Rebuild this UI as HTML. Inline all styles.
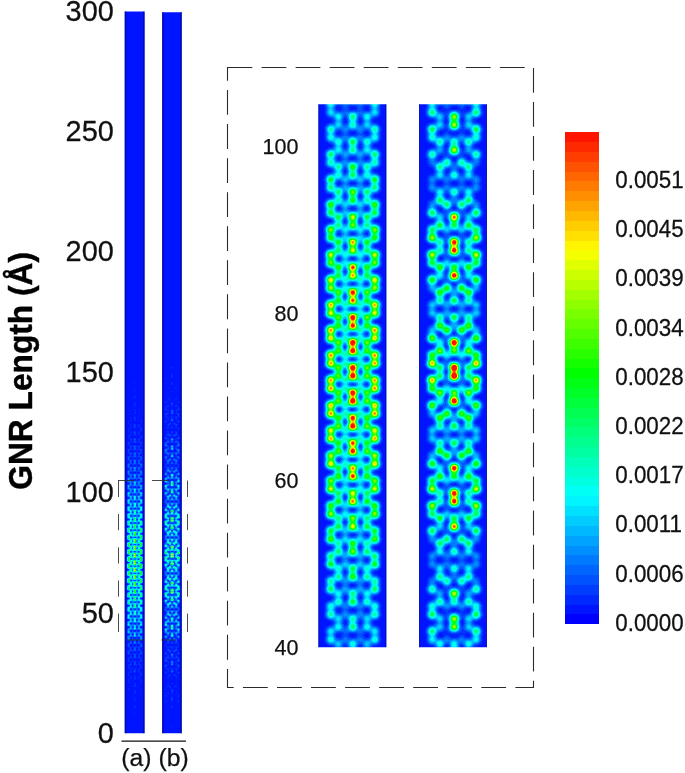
<!DOCTYPE html>
<html lang="en"><head><meta charset="utf-8"><title>GNR Length</title>
<style>html,body{margin:0;padding:0;background:#fff}svg{display:block}</style></head>
<body>
<svg width="685" height="773" viewBox="0 0 685 773">
<defs>
<radialGradient id="dot"><stop offset="0.000" stop-color="#fff" stop-opacity="1.000"/><stop offset="0.083" stop-color="#fff" stop-opacity="0.969"/><stop offset="0.167" stop-color="#fff" stop-opacity="0.882"/><stop offset="0.250" stop-color="#fff" stop-opacity="0.755"/><stop offset="0.333" stop-color="#fff" stop-opacity="0.607"/><stop offset="0.417" stop-color="#fff" stop-opacity="0.458"/><stop offset="0.500" stop-color="#fff" stop-opacity="0.325"/><stop offset="0.583" stop-color="#fff" stop-opacity="0.216"/><stop offset="0.667" stop-color="#fff" stop-opacity="0.135"/><stop offset="0.750" stop-color="#fff" stop-opacity="0.080"/><stop offset="0.833" stop-color="#fff" stop-opacity="0.044"/><stop offset="0.917" stop-color="#fff" stop-opacity="0.023"/><stop offset="1.000" stop-color="#fff" stop-opacity="0.000"/></radialGradient>
<filter id="jet" color-interpolation-filters="sRGB" x="0" y="0" width="1" height="1"><feComponentTransfer><feFuncR type="discrete" tableValues="0 0 0 0 0 0 0 0 0 0 0 0 0 0 0 0 0 0 0 0 0 0 0 0 0 0.08 0.16 0.24 0.32 0.4 0.48 0.56 0.64 0.72 0.8 0.88 0.96 1 1 1 1 1 1 1 1 1 1 1 1 1 1 1 1 1 1 1 1 1 1 1 1 1 1 1 1 1 1 1 1 1 1 1 1 1 1 1 1 1 1 1 1 1 1 1 1 1 1 1 1 1 1 1 1 1 1 1 1 1 1 1"/><feFuncG type="discrete" tableValues="0.08 0.16 0.24 0.32 0.4 0.48 0.56 0.64 0.72 0.8 0.88 0.96 1 1 1 1 1 1 1 1 1 1 1 1 1 1 1 1 1 1 1 1 1 1 1 1 1 0.96 0.88 0.8 0.72 0.64 0.56 0.48 0.4 0.32 0.24 0.16 0.08 0.08 0.08 0.08 0.08 0.08 0.08 0.08 0.08 0.08 0.08 0.08 0.08 0.08 0.08 0.08 0.08 0.08 0.08 0.08 0.08 0.08 0.08 0.08 0.08 0.08 0.08 0.08 0.08 0.08 0.08 0.08 0.08 0.08 0.08 0.08 0.08 0.08 0.08 0.08 0.08 0.08 0.08 0.08 0.08 0.08 0.08 0.08 0.08 0.08 0.08 0.08"/><feFuncB type="discrete" tableValues="1 1 1 1 1 1 1 1 1 1 1 1 0.96 0.88 0.8 0.72 0.64 0.56 0.48 0.4 0.32 0.24 0.16 0.08 0 0 0 0 0 0 0 0 0 0 0 0 0 0 0 0 0 0 0 0 0 0 0 0 0 0 0 0 0 0 0 0 0 0 0 0 0 0 0 0 0 0 0 0 0 0 0 0 0 0 0 0 0 0 0 0 0 0 0 0 0 0 0 0 0 0 0 0 0 0 0 0 0 0 0 0"/></feComponentTransfer></filter>
</defs>
<rect width="685" height="773" fill="#fff"/>
<clipPath id="cma"><rect x="124.70" y="11.40" width="19.90" height="721.90"/></clipPath>
<g filter="url(#jet)"><g clip-path="url(#cma)">
<rect x="122.7" y="9.4" width="23.9" height="725.9" fill="#000"/>
<g fill="url(#dot)">
<circle cx="134.8" cy="360.4" r="2.70" opacity="0.007"/>
<circle cx="134.8" cy="367.5" r="2.70" opacity="0.008"/>
<circle cx="134.8" cy="369.9" r="2.70" opacity="0.007"/>
<circle cx="134.8" cy="374.7" r="2.70" opacity="0.009"/>
<circle cx="134.8" cy="377.1" r="2.70" opacity="0.008"/>
<circle cx="134.8" cy="381.9" r="2.70" opacity="0.012"/>
<circle cx="134.8" cy="384.3" r="2.70" opacity="0.010"/>
<circle cx="130.8" cy="389.1" r="2.70" opacity="0.006"/>
<circle cx="134.8" cy="389.1" r="2.70" opacity="0.014"/>
<circle cx="134.8" cy="391.4" r="2.70" opacity="0.011"/>
<circle cx="138.9" cy="389.1" r="2.70" opacity="0.006"/>
<circle cx="128.6" cy="399.9" r="2.70" opacity="0.007"/>
<circle cx="130.8" cy="396.3" r="2.70" opacity="0.008"/>
<circle cx="130.8" cy="398.6" r="2.70" opacity="0.006"/>
<circle cx="134.8" cy="396.3" r="2.70" opacity="0.016"/>
<circle cx="134.8" cy="398.6" r="2.70" opacity="0.013"/>
<circle cx="138.9" cy="396.3" r="2.70" opacity="0.008"/>
<circle cx="138.9" cy="398.6" r="2.70" opacity="0.006"/>
<circle cx="141.1" cy="399.9" r="2.70" opacity="0.007"/>
<circle cx="128.6" cy="407.0" r="2.70" opacity="0.009"/>
<circle cx="128.6" cy="409.4" r="2.70" opacity="0.007"/>
<circle cx="130.8" cy="403.4" r="2.70" opacity="0.010"/>
<circle cx="130.8" cy="405.8" r="2.70" opacity="0.008"/>
<circle cx="134.8" cy="403.4" r="2.70" opacity="0.019"/>
<circle cx="134.8" cy="405.8" r="2.70" opacity="0.016"/>
<circle cx="138.9" cy="403.4" r="2.70" opacity="0.010"/>
<circle cx="138.9" cy="405.8" r="2.70" opacity="0.008"/>
<circle cx="141.1" cy="407.0" r="2.70" opacity="0.009"/>
<circle cx="141.1" cy="409.4" r="2.70" opacity="0.007"/>
<circle cx="128.6" cy="414.2" r="2.70" opacity="0.011"/>
<circle cx="128.6" cy="416.6" r="2.70" opacity="0.009"/>
<circle cx="130.8" cy="410.6" r="2.70" opacity="0.012"/>
<circle cx="130.8" cy="413.0" r="2.70" opacity="0.010"/>
<circle cx="134.8" cy="410.6" r="2.70" opacity="0.023"/>
<circle cx="134.8" cy="413.0" r="2.70" opacity="0.019"/>
<circle cx="138.9" cy="410.6" r="2.70" opacity="0.012"/>
<circle cx="138.9" cy="413.0" r="2.70" opacity="0.010"/>
<circle cx="141.1" cy="414.2" r="2.70" opacity="0.011"/>
<circle cx="141.1" cy="416.6" r="2.70" opacity="0.009"/>
<circle cx="128.6" cy="421.4" r="2.70" opacity="0.014"/>
<circle cx="128.6" cy="423.7" r="2.70" opacity="0.011"/>
<circle cx="130.8" cy="417.8" r="2.70" opacity="0.014"/>
<circle cx="130.8" cy="420.2" r="2.70" opacity="0.012"/>
<circle cx="134.8" cy="417.8" r="2.70" opacity="0.028"/>
<circle cx="134.8" cy="420.2" r="2.70" opacity="0.022"/>
<circle cx="138.9" cy="417.8" r="2.70" opacity="0.014"/>
<circle cx="138.9" cy="420.2" r="2.70" opacity="0.012"/>
<circle cx="141.1" cy="421.4" r="2.70" opacity="0.014"/>
<circle cx="141.1" cy="423.7" r="2.70" opacity="0.011"/>
<circle cx="128.6" cy="428.6" r="2.70" opacity="0.017"/>
<circle cx="128.6" cy="430.9" r="2.70" opacity="0.014"/>
<circle cx="130.8" cy="425.0" r="2.70" opacity="0.017"/>
<circle cx="130.8" cy="427.3" r="2.70" opacity="0.014"/>
<circle cx="132.8" cy="428.6" r="2.70" opacity="0.007"/>
<circle cx="134.8" cy="425.0" r="2.70" opacity="0.032"/>
<circle cx="134.8" cy="427.3" r="2.70" opacity="0.026"/>
<circle cx="136.9" cy="428.6" r="2.70" opacity="0.007"/>
<circle cx="138.9" cy="425.0" r="2.70" opacity="0.017"/>
<circle cx="138.9" cy="427.3" r="2.70" opacity="0.014"/>
<circle cx="141.1" cy="428.6" r="2.70" opacity="0.017"/>
<circle cx="141.1" cy="430.9" r="2.70" opacity="0.014"/>
<circle cx="128.6" cy="435.8" r="2.70" opacity="0.021"/>
<circle cx="128.6" cy="438.1" r="2.70" opacity="0.018"/>
<circle cx="130.8" cy="432.2" r="2.70" opacity="0.021"/>
<circle cx="130.8" cy="434.5" r="2.70" opacity="0.017"/>
<circle cx="132.8" cy="435.8" r="2.70" opacity="0.009"/>
<circle cx="132.8" cy="438.1" r="2.70" opacity="0.007"/>
<circle cx="134.8" cy="432.2" r="2.70" opacity="0.038"/>
<circle cx="134.8" cy="434.5" r="2.70" opacity="0.031"/>
<circle cx="136.9" cy="435.8" r="2.70" opacity="0.009"/>
<circle cx="136.9" cy="438.1" r="2.70" opacity="0.007"/>
<circle cx="138.9" cy="432.2" r="2.70" opacity="0.021"/>
<circle cx="138.9" cy="434.5" r="2.70" opacity="0.017"/>
<circle cx="141.1" cy="435.8" r="2.70" opacity="0.021"/>
<circle cx="141.1" cy="438.1" r="2.70" opacity="0.018"/>
<circle cx="128.6" cy="442.9" r="2.70" opacity="0.027"/>
<circle cx="128.6" cy="445.3" r="2.70" opacity="0.022"/>
<circle cx="130.8" cy="439.3" r="2.70" opacity="0.026"/>
<circle cx="130.8" cy="441.7" r="2.70" opacity="0.021"/>
<circle cx="132.8" cy="442.9" r="2.70" opacity="0.011"/>
<circle cx="132.8" cy="445.3" r="2.70" opacity="0.009"/>
<circle cx="134.8" cy="439.3" r="2.70" opacity="0.044"/>
<circle cx="134.8" cy="441.7" r="2.70" opacity="0.036"/>
<circle cx="136.9" cy="442.9" r="2.70" opacity="0.011"/>
<circle cx="136.9" cy="445.3" r="2.70" opacity="0.009"/>
<circle cx="138.9" cy="439.3" r="2.70" opacity="0.026"/>
<circle cx="138.9" cy="441.7" r="2.70" opacity="0.021"/>
<circle cx="141.1" cy="442.9" r="2.70" opacity="0.027"/>
<circle cx="141.1" cy="445.3" r="2.70" opacity="0.022"/>
<circle cx="128.6" cy="450.1" r="2.70" opacity="0.033"/>
<circle cx="128.6" cy="452.5" r="2.70" opacity="0.028"/>
<circle cx="130.8" cy="446.5" r="2.70" opacity="0.031"/>
<circle cx="130.8" cy="448.9" r="2.70" opacity="0.025"/>
<circle cx="132.8" cy="450.1" r="2.70" opacity="0.014"/>
<circle cx="132.8" cy="452.5" r="2.70" opacity="0.011"/>
<circle cx="134.8" cy="446.5" r="2.70" opacity="0.051"/>
<circle cx="134.8" cy="448.9" r="2.70" opacity="0.041"/>
<circle cx="136.9" cy="450.1" r="2.70" opacity="0.014"/>
<circle cx="136.9" cy="452.5" r="2.70" opacity="0.011"/>
<circle cx="138.9" cy="446.5" r="2.70" opacity="0.031"/>
<circle cx="138.9" cy="448.9" r="2.70" opacity="0.025"/>
<circle cx="141.1" cy="450.1" r="2.70" opacity="0.033"/>
<circle cx="141.1" cy="452.5" r="2.70" opacity="0.028"/>
<circle cx="128.6" cy="457.3" r="2.70" opacity="0.041"/>
<circle cx="128.6" cy="459.6" r="2.70" opacity="0.034"/>
<circle cx="130.8" cy="453.7" r="2.70" opacity="0.037"/>
<circle cx="130.8" cy="456.1" r="2.70" opacity="0.030"/>
<circle cx="132.8" cy="457.3" r="2.70" opacity="0.017"/>
<circle cx="132.8" cy="459.6" r="2.70" opacity="0.014"/>
<circle cx="134.8" cy="453.7" r="2.70" opacity="0.060"/>
<circle cx="134.8" cy="456.1" r="2.70" opacity="0.049"/>
<circle cx="136.9" cy="457.3" r="2.70" opacity="0.017"/>
<circle cx="136.9" cy="459.6" r="2.70" opacity="0.014"/>
<circle cx="138.9" cy="453.7" r="2.70" opacity="0.037"/>
<circle cx="138.9" cy="456.1" r="2.70" opacity="0.030"/>
<circle cx="141.1" cy="457.3" r="2.70" opacity="0.041"/>
<circle cx="141.1" cy="459.6" r="2.70" opacity="0.034"/>
<circle cx="128.6" cy="464.5" r="2.70" opacity="0.051"/>
<circle cx="128.6" cy="466.8" r="2.70" opacity="0.042"/>
<circle cx="130.8" cy="460.9" r="2.70" opacity="0.045"/>
<circle cx="130.8" cy="463.2" r="2.70" opacity="0.037"/>
<circle cx="132.8" cy="464.5" r="2.70" opacity="0.020"/>
<circle cx="132.8" cy="466.8" r="2.70" opacity="0.017"/>
<circle cx="134.8" cy="460.9" r="2.70" opacity="0.069"/>
<circle cx="134.8" cy="463.2" r="2.70" opacity="0.057"/>
<circle cx="136.9" cy="464.5" r="2.70" opacity="0.020"/>
<circle cx="136.9" cy="466.8" r="2.70" opacity="0.017"/>
<circle cx="138.9" cy="460.9" r="2.70" opacity="0.045"/>
<circle cx="138.9" cy="463.2" r="2.70" opacity="0.037"/>
<circle cx="141.1" cy="464.5" r="2.70" opacity="0.051"/>
<circle cx="141.1" cy="466.8" r="2.70" opacity="0.042"/>
<circle cx="128.6" cy="471.7" r="2.70" opacity="0.063"/>
<circle cx="128.6" cy="474.0" r="2.70" opacity="0.052"/>
<circle cx="130.8" cy="468.1" r="2.70" opacity="0.054"/>
<circle cx="130.8" cy="470.4" r="2.70" opacity="0.044"/>
<circle cx="132.8" cy="471.7" r="2.70" opacity="0.025"/>
<circle cx="132.8" cy="474.0" r="2.70" opacity="0.020"/>
<circle cx="134.8" cy="468.1" r="2.70" opacity="0.082"/>
<circle cx="134.8" cy="470.4" r="2.70" opacity="0.067"/>
<circle cx="136.9" cy="471.7" r="2.70" opacity="0.025"/>
<circle cx="136.9" cy="474.0" r="2.70" opacity="0.020"/>
<circle cx="138.9" cy="468.1" r="2.70" opacity="0.054"/>
<circle cx="138.9" cy="470.4" r="2.70" opacity="0.044"/>
<circle cx="141.1" cy="471.7" r="2.70" opacity="0.063"/>
<circle cx="141.1" cy="474.0" r="2.70" opacity="0.052"/>
<circle cx="128.6" cy="478.8" r="2.70" opacity="0.078"/>
<circle cx="128.6" cy="481.2" r="2.70" opacity="0.064"/>
<circle cx="130.8" cy="475.2" r="2.70" opacity="0.064"/>
<circle cx="130.8" cy="477.6" r="2.70" opacity="0.052"/>
<circle cx="132.8" cy="478.8" r="2.70" opacity="0.030"/>
<circle cx="132.8" cy="481.2" r="2.70" opacity="0.025"/>
<circle cx="134.8" cy="475.2" r="2.70" opacity="0.096"/>
<circle cx="134.8" cy="477.6" r="2.70" opacity="0.078"/>
<circle cx="136.9" cy="478.8" r="2.70" opacity="0.030"/>
<circle cx="136.9" cy="481.2" r="2.70" opacity="0.025"/>
<circle cx="138.9" cy="475.2" r="2.70" opacity="0.064"/>
<circle cx="138.9" cy="477.6" r="2.70" opacity="0.052"/>
<circle cx="141.1" cy="478.8" r="2.70" opacity="0.078"/>
<circle cx="141.1" cy="481.2" r="2.70" opacity="0.064"/>
<circle cx="128.6" cy="486.0" r="2.70" opacity="0.095"/>
<circle cx="128.6" cy="488.4" r="2.70" opacity="0.078"/>
<circle cx="130.8" cy="482.4" r="2.70" opacity="0.075"/>
<circle cx="130.8" cy="484.8" r="2.70" opacity="0.061"/>
<circle cx="132.8" cy="486.0" r="2.70" opacity="0.036"/>
<circle cx="132.8" cy="488.4" r="2.70" opacity="0.030"/>
<circle cx="134.8" cy="482.4" r="2.70" opacity="0.113"/>
<circle cx="134.8" cy="484.8" r="2.70" opacity="0.093"/>
<circle cx="136.9" cy="486.0" r="2.70" opacity="0.036"/>
<circle cx="136.9" cy="488.4" r="2.70" opacity="0.030"/>
<circle cx="138.9" cy="482.4" r="2.70" opacity="0.075"/>
<circle cx="138.9" cy="484.8" r="2.70" opacity="0.061"/>
<circle cx="141.1" cy="486.0" r="2.70" opacity="0.095"/>
<circle cx="141.1" cy="488.4" r="2.70" opacity="0.078"/>
<circle cx="128.6" cy="493.2" r="2.70" opacity="0.115"/>
<circle cx="128.6" cy="495.5" r="2.70" opacity="0.094"/>
<circle cx="130.8" cy="489.6" r="2.70" opacity="0.088"/>
<circle cx="130.8" cy="492.0" r="2.70" opacity="0.072"/>
<circle cx="132.8" cy="493.2" r="2.70" opacity="0.043"/>
<circle cx="132.8" cy="495.5" r="2.70" opacity="0.035"/>
<circle cx="134.8" cy="489.6" r="2.70" opacity="0.135"/>
<circle cx="134.8" cy="492.0" r="2.70" opacity="0.109"/>
<circle cx="136.9" cy="493.2" r="2.70" opacity="0.043"/>
<circle cx="136.9" cy="495.5" r="2.70" opacity="0.035"/>
<circle cx="138.9" cy="489.6" r="2.70" opacity="0.088"/>
<circle cx="138.9" cy="492.0" r="2.70" opacity="0.072"/>
<circle cx="141.1" cy="493.2" r="2.70" opacity="0.115"/>
<circle cx="141.1" cy="495.5" r="2.70" opacity="0.094"/>
<circle cx="128.6" cy="500.4" r="2.70" opacity="0.137"/>
<circle cx="128.6" cy="502.7" r="2.70" opacity="0.113"/>
<circle cx="130.8" cy="496.8" r="2.70" opacity="0.103"/>
<circle cx="130.8" cy="499.1" r="2.70" opacity="0.084"/>
<circle cx="132.8" cy="500.4" r="2.70" opacity="0.051"/>
<circle cx="132.8" cy="502.7" r="2.70" opacity="0.042"/>
<circle cx="134.8" cy="496.8" r="2.70" opacity="0.155"/>
<circle cx="134.8" cy="499.1" r="2.70" opacity="0.127"/>
<circle cx="136.9" cy="500.4" r="2.70" opacity="0.051"/>
<circle cx="136.9" cy="502.7" r="2.70" opacity="0.042"/>
<circle cx="138.9" cy="496.8" r="2.70" opacity="0.103"/>
<circle cx="138.9" cy="499.1" r="2.70" opacity="0.084"/>
<circle cx="141.1" cy="500.4" r="2.70" opacity="0.137"/>
<circle cx="141.1" cy="502.7" r="2.70" opacity="0.113"/>
<circle cx="128.6" cy="507.6" r="2.70" opacity="0.162"/>
<circle cx="128.6" cy="509.9" r="2.70" opacity="0.134"/>
<circle cx="130.8" cy="504.0" r="2.70" opacity="0.118"/>
<circle cx="130.8" cy="506.3" r="2.70" opacity="0.096"/>
<circle cx="132.8" cy="507.6" r="2.70" opacity="0.060"/>
<circle cx="132.8" cy="509.9" r="2.70" opacity="0.049"/>
<circle cx="134.8" cy="504.0" r="2.70" opacity="0.181"/>
<circle cx="134.8" cy="506.3" r="2.70" opacity="0.149"/>
<circle cx="136.9" cy="507.6" r="2.70" opacity="0.060"/>
<circle cx="136.9" cy="509.9" r="2.70" opacity="0.049"/>
<circle cx="138.9" cy="504.0" r="2.70" opacity="0.118"/>
<circle cx="138.9" cy="506.3" r="2.70" opacity="0.096"/>
<circle cx="141.1" cy="507.6" r="2.70" opacity="0.162"/>
<circle cx="141.1" cy="509.9" r="2.70" opacity="0.134"/>
<circle cx="128.6" cy="514.7" r="2.70" opacity="0.189"/>
<circle cx="128.6" cy="517.1" r="2.70" opacity="0.156"/>
<circle cx="130.8" cy="511.1" r="2.70" opacity="0.135"/>
<circle cx="130.8" cy="513.5" r="2.70" opacity="0.110"/>
<circle cx="132.8" cy="514.7" r="2.70" opacity="0.069"/>
<circle cx="132.8" cy="517.1" r="2.70" opacity="0.057"/>
<circle cx="134.8" cy="511.1" r="2.70" opacity="0.212"/>
<circle cx="134.8" cy="513.5" r="2.70" opacity="0.177"/>
<circle cx="136.9" cy="514.7" r="2.70" opacity="0.069"/>
<circle cx="136.9" cy="517.1" r="2.70" opacity="0.057"/>
<circle cx="138.9" cy="511.1" r="2.70" opacity="0.135"/>
<circle cx="138.9" cy="513.5" r="2.70" opacity="0.110"/>
<circle cx="141.1" cy="514.7" r="2.70" opacity="0.189"/>
<circle cx="141.1" cy="517.1" r="2.70" opacity="0.156"/>
<circle cx="128.6" cy="521.9" r="2.70" opacity="0.216"/>
<circle cx="128.6" cy="524.3" r="2.70" opacity="0.180"/>
<circle cx="130.8" cy="518.3" r="2.70" opacity="0.151"/>
<circle cx="130.8" cy="520.7" r="2.70" opacity="0.124"/>
<circle cx="132.8" cy="521.9" r="2.70" opacity="0.078"/>
<circle cx="132.8" cy="524.3" r="2.70" opacity="0.064"/>
<circle cx="134.8" cy="518.3" r="2.70" opacity="0.252"/>
<circle cx="134.8" cy="520.7" r="2.70" opacity="0.212"/>
<circle cx="136.9" cy="521.9" r="2.70" opacity="0.078"/>
<circle cx="136.9" cy="524.3" r="2.70" opacity="0.064"/>
<circle cx="138.9" cy="518.3" r="2.70" opacity="0.151"/>
<circle cx="138.9" cy="520.7" r="2.70" opacity="0.124"/>
<circle cx="141.1" cy="521.9" r="2.70" opacity="0.216"/>
<circle cx="141.1" cy="524.3" r="2.70" opacity="0.180"/>
<circle cx="128.6" cy="529.1" r="2.70" opacity="0.242"/>
<circle cx="128.6" cy="531.4" r="2.70" opacity="0.204"/>
<circle cx="130.8" cy="525.5" r="2.70" opacity="0.166"/>
<circle cx="130.8" cy="527.9" r="2.70" opacity="0.138"/>
<circle cx="132.8" cy="529.1" r="2.70" opacity="0.086"/>
<circle cx="132.8" cy="531.4" r="2.70" opacity="0.072"/>
<circle cx="134.8" cy="525.5" r="2.70" opacity="0.298"/>
<circle cx="134.8" cy="527.9" r="2.70" opacity="0.251"/>
<circle cx="136.9" cy="529.1" r="2.70" opacity="0.086"/>
<circle cx="136.9" cy="531.4" r="2.70" opacity="0.072"/>
<circle cx="138.9" cy="525.5" r="2.70" opacity="0.166"/>
<circle cx="138.9" cy="527.9" r="2.70" opacity="0.138"/>
<circle cx="141.1" cy="529.1" r="2.70" opacity="0.242"/>
<circle cx="141.1" cy="531.4" r="2.70" opacity="0.204"/>
<circle cx="128.6" cy="536.3" r="2.70" opacity="0.264"/>
<circle cx="128.6" cy="538.6" r="2.70" opacity="0.227"/>
<circle cx="130.8" cy="532.7" r="2.70" opacity="0.179"/>
<circle cx="130.8" cy="535.0" r="2.70" opacity="0.151"/>
<circle cx="132.8" cy="536.3" r="2.70" opacity="0.093"/>
<circle cx="132.8" cy="538.6" r="2.70" opacity="0.080"/>
<circle cx="134.8" cy="532.7" r="2.70" opacity="0.338"/>
<circle cx="134.8" cy="535.0" r="2.70" opacity="0.289"/>
<circle cx="136.9" cy="536.3" r="2.70" opacity="0.093"/>
<circle cx="136.9" cy="538.6" r="2.70" opacity="0.080"/>
<circle cx="138.9" cy="532.7" r="2.70" opacity="0.179"/>
<circle cx="138.9" cy="535.0" r="2.70" opacity="0.151"/>
<circle cx="141.1" cy="536.3" r="2.70" opacity="0.264"/>
<circle cx="141.1" cy="538.6" r="2.70" opacity="0.227"/>
<circle cx="128.6" cy="543.5" r="2.70" opacity="0.279"/>
<circle cx="128.6" cy="545.8" r="2.70" opacity="0.249"/>
<circle cx="130.8" cy="539.9" r="2.70" opacity="0.189"/>
<circle cx="130.8" cy="542.2" r="2.70" opacity="0.164"/>
<circle cx="132.8" cy="543.5" r="2.70" opacity="0.098"/>
<circle cx="132.8" cy="545.8" r="2.70" opacity="0.087"/>
<circle cx="134.8" cy="539.9" r="2.70" opacity="0.371"/>
<circle cx="134.8" cy="542.2" r="2.70" opacity="0.326"/>
<circle cx="136.9" cy="543.5" r="2.70" opacity="0.098"/>
<circle cx="136.9" cy="545.8" r="2.70" opacity="0.087"/>
<circle cx="138.9" cy="539.9" r="2.70" opacity="0.189"/>
<circle cx="138.9" cy="542.2" r="2.70" opacity="0.164"/>
<circle cx="141.1" cy="543.5" r="2.70" opacity="0.279"/>
<circle cx="141.1" cy="545.8" r="2.70" opacity="0.249"/>
<circle cx="128.6" cy="550.6" r="2.70" opacity="0.287"/>
<circle cx="128.6" cy="553.0" r="2.70" opacity="0.268"/>
<circle cx="130.8" cy="547.0" r="2.70" opacity="0.194"/>
<circle cx="130.8" cy="549.4" r="2.70" opacity="0.176"/>
<circle cx="132.8" cy="550.6" r="2.70" opacity="0.100"/>
<circle cx="132.8" cy="553.0" r="2.70" opacity="0.093"/>
<circle cx="134.8" cy="547.0" r="2.70" opacity="0.394"/>
<circle cx="134.8" cy="549.4" r="2.70" opacity="0.359"/>
<circle cx="136.9" cy="550.6" r="2.70" opacity="0.100"/>
<circle cx="136.9" cy="553.0" r="2.70" opacity="0.093"/>
<circle cx="138.9" cy="547.0" r="2.70" opacity="0.194"/>
<circle cx="138.9" cy="549.4" r="2.70" opacity="0.176"/>
<circle cx="141.1" cy="550.6" r="2.70" opacity="0.287"/>
<circle cx="141.1" cy="553.0" r="2.70" opacity="0.268"/>
<circle cx="128.6" cy="557.8" r="2.70" opacity="0.286"/>
<circle cx="128.6" cy="560.2" r="2.70" opacity="0.281"/>
<circle cx="130.8" cy="554.2" r="2.70" opacity="0.194"/>
<circle cx="130.8" cy="556.6" r="2.70" opacity="0.186"/>
<circle cx="132.8" cy="557.8" r="2.70" opacity="0.100"/>
<circle cx="132.8" cy="560.2" r="2.70" opacity="0.098"/>
<circle cx="134.8" cy="554.2" r="2.70" opacity="0.403"/>
<circle cx="134.8" cy="556.6" r="2.70" opacity="0.384"/>
<circle cx="136.9" cy="557.8" r="2.70" opacity="0.100"/>
<circle cx="136.9" cy="560.2" r="2.70" opacity="0.098"/>
<circle cx="138.9" cy="554.2" r="2.70" opacity="0.194"/>
<circle cx="138.9" cy="556.6" r="2.70" opacity="0.186"/>
<circle cx="141.1" cy="557.8" r="2.70" opacity="0.286"/>
<circle cx="141.1" cy="560.2" r="2.70" opacity="0.281"/>
<circle cx="128.6" cy="565.0" r="2.70" opacity="0.276"/>
<circle cx="128.6" cy="567.3" r="2.70" opacity="0.287"/>
<circle cx="130.8" cy="561.4" r="2.70" opacity="0.190"/>
<circle cx="130.8" cy="563.8" r="2.70" opacity="0.192"/>
<circle cx="132.8" cy="565.0" r="2.70" opacity="0.096"/>
<circle cx="132.8" cy="567.3" r="2.70" opacity="0.100"/>
<circle cx="134.8" cy="561.4" r="2.70" opacity="0.393"/>
<circle cx="134.8" cy="563.8" r="2.70" opacity="0.397"/>
<circle cx="136.9" cy="565.0" r="2.70" opacity="0.096"/>
<circle cx="136.9" cy="567.3" r="2.70" opacity="0.100"/>
<circle cx="138.9" cy="561.4" r="2.70" opacity="0.190"/>
<circle cx="138.9" cy="563.8" r="2.70" opacity="0.192"/>
<circle cx="141.1" cy="565.0" r="2.70" opacity="0.276"/>
<circle cx="141.1" cy="567.3" r="2.70" opacity="0.287"/>
<circle cx="128.6" cy="572.2" r="2.70" opacity="0.261"/>
<circle cx="128.6" cy="574.5" r="2.70" opacity="0.285"/>
<circle cx="130.8" cy="568.6" r="2.70" opacity="0.182"/>
<circle cx="130.8" cy="570.9" r="2.70" opacity="0.195"/>
<circle cx="132.8" cy="572.2" r="2.70" opacity="0.091"/>
<circle cx="132.8" cy="574.5" r="2.70" opacity="0.100"/>
<circle cx="134.8" cy="568.6" r="2.70" opacity="0.377"/>
<circle cx="134.8" cy="570.9" r="2.70" opacity="0.400"/>
<circle cx="136.9" cy="572.2" r="2.70" opacity="0.091"/>
<circle cx="136.9" cy="574.5" r="2.70" opacity="0.100"/>
<circle cx="138.9" cy="568.6" r="2.70" opacity="0.182"/>
<circle cx="138.9" cy="570.9" r="2.70" opacity="0.195"/>
<circle cx="141.1" cy="572.2" r="2.70" opacity="0.261"/>
<circle cx="141.1" cy="574.5" r="2.70" opacity="0.285"/>
<circle cx="128.6" cy="579.4" r="2.70" opacity="0.241"/>
<circle cx="128.6" cy="581.7" r="2.70" opacity="0.274"/>
<circle cx="130.8" cy="575.8" r="2.70" opacity="0.171"/>
<circle cx="130.8" cy="578.1" r="2.70" opacity="0.192"/>
<circle cx="132.8" cy="579.4" r="2.70" opacity="0.085"/>
<circle cx="132.8" cy="581.7" r="2.70" opacity="0.096"/>
<circle cx="134.8" cy="575.8" r="2.70" opacity="0.348"/>
<circle cx="134.8" cy="578.1" r="2.70" opacity="0.386"/>
<circle cx="136.9" cy="579.4" r="2.70" opacity="0.085"/>
<circle cx="136.9" cy="581.7" r="2.70" opacity="0.096"/>
<circle cx="138.9" cy="575.8" r="2.70" opacity="0.171"/>
<circle cx="138.9" cy="578.1" r="2.70" opacity="0.192"/>
<circle cx="141.1" cy="579.4" r="2.70" opacity="0.241"/>
<circle cx="141.1" cy="581.7" r="2.70" opacity="0.274"/>
<circle cx="128.6" cy="586.5" r="2.70" opacity="0.218"/>
<circle cx="128.6" cy="588.9" r="2.70" opacity="0.256"/>
<circle cx="130.8" cy="582.9" r="2.70" opacity="0.159"/>
<circle cx="130.8" cy="585.3" r="2.70" opacity="0.185"/>
<circle cx="132.8" cy="586.5" r="2.70" opacity="0.077"/>
<circle cx="132.8" cy="588.9" r="2.70" opacity="0.091"/>
<circle cx="134.8" cy="582.9" r="2.70" opacity="0.312"/>
<circle cx="134.8" cy="585.3" r="2.70" opacity="0.358"/>
<circle cx="136.9" cy="586.5" r="2.70" opacity="0.077"/>
<circle cx="136.9" cy="588.9" r="2.70" opacity="0.091"/>
<circle cx="138.9" cy="582.9" r="2.70" opacity="0.159"/>
<circle cx="138.9" cy="585.3" r="2.70" opacity="0.185"/>
<circle cx="141.1" cy="586.5" r="2.70" opacity="0.218"/>
<circle cx="141.1" cy="588.9" r="2.70" opacity="0.256"/>
<circle cx="128.6" cy="593.7" r="2.70" opacity="0.194"/>
<circle cx="128.6" cy="596.1" r="2.70" opacity="0.232"/>
<circle cx="130.8" cy="590.1" r="2.70" opacity="0.146"/>
<circle cx="130.8" cy="592.5" r="2.70" opacity="0.174"/>
<circle cx="132.8" cy="593.7" r="2.70" opacity="0.069"/>
<circle cx="132.8" cy="596.1" r="2.70" opacity="0.083"/>
<circle cx="134.8" cy="590.1" r="2.70" opacity="0.274"/>
<circle cx="134.8" cy="592.5" r="2.70" opacity="0.322"/>
<circle cx="136.9" cy="593.7" r="2.70" opacity="0.069"/>
<circle cx="136.9" cy="596.1" r="2.70" opacity="0.083"/>
<circle cx="138.9" cy="590.1" r="2.70" opacity="0.146"/>
<circle cx="138.9" cy="592.5" r="2.70" opacity="0.174"/>
<circle cx="141.1" cy="593.7" r="2.70" opacity="0.194"/>
<circle cx="141.1" cy="596.1" r="2.70" opacity="0.232"/>
<circle cx="128.6" cy="600.9" r="2.70" opacity="0.170"/>
<circle cx="128.6" cy="603.2" r="2.70" opacity="0.205"/>
<circle cx="130.8" cy="597.3" r="2.70" opacity="0.132"/>
<circle cx="130.8" cy="599.7" r="2.70" opacity="0.160"/>
<circle cx="132.8" cy="600.9" r="2.70" opacity="0.061"/>
<circle cx="132.8" cy="603.2" r="2.70" opacity="0.074"/>
<circle cx="134.8" cy="597.3" r="2.70" opacity="0.236"/>
<circle cx="134.8" cy="599.7" r="2.70" opacity="0.280"/>
<circle cx="136.9" cy="600.9" r="2.70" opacity="0.061"/>
<circle cx="136.9" cy="603.2" r="2.70" opacity="0.074"/>
<circle cx="138.9" cy="597.3" r="2.70" opacity="0.132"/>
<circle cx="138.9" cy="599.7" r="2.70" opacity="0.160"/>
<circle cx="141.1" cy="600.9" r="2.70" opacity="0.170"/>
<circle cx="141.1" cy="603.2" r="2.70" opacity="0.205"/>
<circle cx="128.6" cy="608.1" r="2.70" opacity="0.147"/>
<circle cx="128.6" cy="610.4" r="2.70" opacity="0.178"/>
<circle cx="130.8" cy="604.5" r="2.70" opacity="0.118"/>
<circle cx="130.8" cy="606.8" r="2.70" opacity="0.144"/>
<circle cx="132.8" cy="608.1" r="2.70" opacity="0.053"/>
<circle cx="132.8" cy="610.4" r="2.70" opacity="0.065"/>
<circle cx="134.8" cy="604.5" r="2.70" opacity="0.197"/>
<circle cx="134.8" cy="606.8" r="2.70" opacity="0.236"/>
<circle cx="136.9" cy="608.1" r="2.70" opacity="0.053"/>
<circle cx="136.9" cy="610.4" r="2.70" opacity="0.065"/>
<circle cx="138.9" cy="604.5" r="2.70" opacity="0.118"/>
<circle cx="138.9" cy="606.8" r="2.70" opacity="0.144"/>
<circle cx="141.1" cy="608.1" r="2.70" opacity="0.147"/>
<circle cx="141.1" cy="610.4" r="2.70" opacity="0.178"/>
<circle cx="128.6" cy="615.3" r="2.70" opacity="0.125"/>
<circle cx="128.6" cy="617.6" r="2.70" opacity="0.152"/>
<circle cx="130.8" cy="611.7" r="2.70" opacity="0.104"/>
<circle cx="130.8" cy="614.0" r="2.70" opacity="0.128"/>
<circle cx="132.8" cy="615.3" r="2.70" opacity="0.046"/>
<circle cx="132.8" cy="617.6" r="2.70" opacity="0.056"/>
<circle cx="134.8" cy="611.7" r="2.70" opacity="0.164"/>
<circle cx="134.8" cy="614.0" r="2.70" opacity="0.200"/>
<circle cx="136.9" cy="615.3" r="2.70" opacity="0.046"/>
<circle cx="136.9" cy="617.6" r="2.70" opacity="0.056"/>
<circle cx="138.9" cy="611.7" r="2.70" opacity="0.104"/>
<circle cx="138.9" cy="614.0" r="2.70" opacity="0.128"/>
<circle cx="141.1" cy="615.3" r="2.70" opacity="0.125"/>
<circle cx="141.1" cy="617.6" r="2.70" opacity="0.152"/>
<circle cx="128.6" cy="622.4" r="2.70" opacity="0.105"/>
<circle cx="128.6" cy="624.8" r="2.70" opacity="0.128"/>
<circle cx="130.8" cy="618.8" r="2.70" opacity="0.091"/>
<circle cx="130.8" cy="621.2" r="2.70" opacity="0.112"/>
<circle cx="132.8" cy="622.4" r="2.70" opacity="0.039"/>
<circle cx="132.8" cy="624.8" r="2.70" opacity="0.048"/>
<circle cx="134.8" cy="618.8" r="2.70" opacity="0.139"/>
<circle cx="134.8" cy="621.2" r="2.70" opacity="0.171"/>
<circle cx="136.9" cy="622.4" r="2.70" opacity="0.039"/>
<circle cx="136.9" cy="624.8" r="2.70" opacity="0.048"/>
<circle cx="138.9" cy="618.8" r="2.70" opacity="0.091"/>
<circle cx="138.9" cy="621.2" r="2.70" opacity="0.112"/>
<circle cx="141.1" cy="622.4" r="2.70" opacity="0.105"/>
<circle cx="141.1" cy="624.8" r="2.70" opacity="0.128"/>
<circle cx="128.6" cy="629.6" r="2.70" opacity="0.088"/>
<circle cx="128.6" cy="632.0" r="2.70" opacity="0.107"/>
<circle cx="130.8" cy="626.0" r="2.70" opacity="0.079"/>
<circle cx="130.8" cy="628.4" r="2.70" opacity="0.097"/>
<circle cx="132.8" cy="629.6" r="2.70" opacity="0.033"/>
<circle cx="132.8" cy="632.0" r="2.70" opacity="0.040"/>
<circle cx="134.8" cy="626.0" r="2.70" opacity="0.119"/>
<circle cx="134.8" cy="628.4" r="2.70" opacity="0.147"/>
<circle cx="136.9" cy="629.6" r="2.70" opacity="0.033"/>
<circle cx="136.9" cy="632.0" r="2.70" opacity="0.040"/>
<circle cx="138.9" cy="626.0" r="2.70" opacity="0.079"/>
<circle cx="138.9" cy="628.4" r="2.70" opacity="0.097"/>
<circle cx="141.1" cy="629.6" r="2.70" opacity="0.088"/>
<circle cx="141.1" cy="632.0" r="2.70" opacity="0.107"/>
<circle cx="128.6" cy="636.8" r="2.70" opacity="0.072"/>
<circle cx="128.6" cy="639.1" r="2.70" opacity="0.088"/>
<circle cx="130.8" cy="633.2" r="2.70" opacity="0.068"/>
<circle cx="130.8" cy="635.6" r="2.70" opacity="0.083"/>
<circle cx="132.8" cy="636.8" r="2.70" opacity="0.028"/>
<circle cx="132.8" cy="639.1" r="2.70" opacity="0.034"/>
<circle cx="134.8" cy="633.2" r="2.70" opacity="0.103"/>
<circle cx="134.8" cy="635.6" r="2.70" opacity="0.126"/>
<circle cx="136.9" cy="636.8" r="2.70" opacity="0.028"/>
<circle cx="136.9" cy="639.1" r="2.70" opacity="0.034"/>
<circle cx="138.9" cy="633.2" r="2.70" opacity="0.068"/>
<circle cx="138.9" cy="635.6" r="2.70" opacity="0.083"/>
<circle cx="141.1" cy="636.8" r="2.70" opacity="0.072"/>
<circle cx="141.1" cy="639.1" r="2.70" opacity="0.088"/>
<circle cx="128.6" cy="644.0" r="2.70" opacity="0.036"/>
<circle cx="128.6" cy="646.3" r="2.70" opacity="0.043"/>
<circle cx="130.8" cy="640.4" r="2.70" opacity="0.034"/>
<circle cx="130.8" cy="642.7" r="2.70" opacity="0.042"/>
<circle cx="132.8" cy="644.0" r="2.70" opacity="0.014"/>
<circle cx="132.8" cy="646.3" r="2.70" opacity="0.017"/>
<circle cx="134.8" cy="640.4" r="2.70" opacity="0.051"/>
<circle cx="134.8" cy="642.7" r="2.70" opacity="0.063"/>
<circle cx="136.9" cy="644.0" r="2.70" opacity="0.014"/>
<circle cx="136.9" cy="646.3" r="2.70" opacity="0.017"/>
<circle cx="138.9" cy="640.4" r="2.70" opacity="0.034"/>
<circle cx="138.9" cy="642.7" r="2.70" opacity="0.042"/>
<circle cx="141.1" cy="644.0" r="2.70" opacity="0.036"/>
<circle cx="141.1" cy="646.3" r="2.70" opacity="0.043"/>
<circle cx="128.6" cy="651.2" r="2.70" opacity="0.029"/>
<circle cx="128.6" cy="653.5" r="2.70" opacity="0.035"/>
<circle cx="130.8" cy="647.6" r="2.70" opacity="0.029"/>
<circle cx="130.8" cy="649.9" r="2.70" opacity="0.036"/>
<circle cx="132.8" cy="651.2" r="2.70" opacity="0.011"/>
<circle cx="132.8" cy="653.5" r="2.70" opacity="0.014"/>
<circle cx="134.8" cy="647.6" r="2.70" opacity="0.044"/>
<circle cx="134.8" cy="649.9" r="2.70" opacity="0.054"/>
<circle cx="136.9" cy="651.2" r="2.70" opacity="0.011"/>
<circle cx="136.9" cy="653.5" r="2.70" opacity="0.014"/>
<circle cx="138.9" cy="647.6" r="2.70" opacity="0.029"/>
<circle cx="138.9" cy="649.9" r="2.70" opacity="0.036"/>
<circle cx="141.1" cy="651.2" r="2.70" opacity="0.029"/>
<circle cx="141.1" cy="653.5" r="2.70" opacity="0.035"/>
<circle cx="128.6" cy="658.3" r="2.70" opacity="0.023"/>
<circle cx="128.6" cy="660.7" r="2.70" opacity="0.028"/>
<circle cx="130.8" cy="654.7" r="2.70" opacity="0.024"/>
<circle cx="130.8" cy="657.1" r="2.70" opacity="0.030"/>
<circle cx="132.8" cy="658.3" r="2.70" opacity="0.009"/>
<circle cx="132.8" cy="660.7" r="2.70" opacity="0.011"/>
<circle cx="134.8" cy="654.7" r="2.70" opacity="0.038"/>
<circle cx="134.8" cy="657.1" r="2.70" opacity="0.046"/>
<circle cx="136.9" cy="658.3" r="2.70" opacity="0.009"/>
<circle cx="136.9" cy="660.7" r="2.70" opacity="0.011"/>
<circle cx="138.9" cy="654.7" r="2.70" opacity="0.024"/>
<circle cx="138.9" cy="657.1" r="2.70" opacity="0.030"/>
<circle cx="141.1" cy="658.3" r="2.70" opacity="0.023"/>
<circle cx="141.1" cy="660.7" r="2.70" opacity="0.028"/>
<circle cx="128.6" cy="665.5" r="2.70" opacity="0.019"/>
<circle cx="128.6" cy="667.9" r="2.70" opacity="0.023"/>
<circle cx="130.8" cy="661.9" r="2.70" opacity="0.020"/>
<circle cx="130.8" cy="664.3" r="2.70" opacity="0.025"/>
<circle cx="132.8" cy="665.5" r="2.70" opacity="0.008"/>
<circle cx="132.8" cy="667.9" r="2.70" opacity="0.009"/>
<circle cx="134.8" cy="661.9" r="2.70" opacity="0.032"/>
<circle cx="134.8" cy="664.3" r="2.70" opacity="0.039"/>
<circle cx="136.9" cy="665.5" r="2.70" opacity="0.008"/>
<circle cx="136.9" cy="667.9" r="2.70" opacity="0.009"/>
<circle cx="138.9" cy="661.9" r="2.70" opacity="0.020"/>
<circle cx="138.9" cy="664.3" r="2.70" opacity="0.025"/>
<circle cx="141.1" cy="665.5" r="2.70" opacity="0.019"/>
<circle cx="141.1" cy="667.9" r="2.70" opacity="0.023"/>
<circle cx="128.6" cy="672.7" r="2.70" opacity="0.015"/>
<circle cx="128.6" cy="675.0" r="2.70" opacity="0.018"/>
<circle cx="130.8" cy="669.1" r="2.70" opacity="0.017"/>
<circle cx="130.8" cy="671.5" r="2.70" opacity="0.021"/>
<circle cx="132.8" cy="672.7" r="2.70" opacity="0.006"/>
<circle cx="132.8" cy="675.0" r="2.70" opacity="0.007"/>
<circle cx="134.8" cy="669.1" r="2.70" opacity="0.027"/>
<circle cx="134.8" cy="671.5" r="2.70" opacity="0.034"/>
<circle cx="136.9" cy="672.7" r="2.70" opacity="0.006"/>
<circle cx="136.9" cy="675.0" r="2.70" opacity="0.007"/>
<circle cx="138.9" cy="669.1" r="2.70" opacity="0.017"/>
<circle cx="138.9" cy="671.5" r="2.70" opacity="0.021"/>
<circle cx="141.1" cy="672.7" r="2.70" opacity="0.015"/>
<circle cx="141.1" cy="675.0" r="2.70" opacity="0.018"/>
<circle cx="128.6" cy="679.9" r="2.70" opacity="0.012"/>
<circle cx="128.6" cy="682.2" r="2.70" opacity="0.015"/>
<circle cx="130.8" cy="676.3" r="2.70" opacity="0.014"/>
<circle cx="130.8" cy="678.6" r="2.70" opacity="0.017"/>
<circle cx="132.8" cy="679.9" r="2.70" opacity="0.005"/>
<circle cx="132.8" cy="682.2" r="2.70" opacity="0.006"/>
<circle cx="134.8" cy="676.3" r="2.70" opacity="0.023"/>
<circle cx="134.8" cy="678.6" r="2.70" opacity="0.029"/>
<circle cx="136.9" cy="679.9" r="2.70" opacity="0.005"/>
<circle cx="136.9" cy="682.2" r="2.70" opacity="0.006"/>
<circle cx="138.9" cy="676.3" r="2.70" opacity="0.014"/>
<circle cx="138.9" cy="678.6" r="2.70" opacity="0.017"/>
<circle cx="141.1" cy="679.9" r="2.70" opacity="0.012"/>
<circle cx="141.1" cy="682.2" r="2.70" opacity="0.015"/>
<circle cx="128.6" cy="687.1" r="2.70" opacity="0.010"/>
<circle cx="128.6" cy="689.4" r="2.70" opacity="0.012"/>
<circle cx="130.8" cy="683.5" r="2.70" opacity="0.012"/>
<circle cx="130.8" cy="685.8" r="2.70" opacity="0.014"/>
<circle cx="132.8" cy="687.1" r="2.70" opacity="0.004"/>
<circle cx="132.8" cy="689.4" r="2.70" opacity="0.005"/>
<circle cx="134.8" cy="683.5" r="2.70" opacity="0.020"/>
<circle cx="134.8" cy="685.8" r="2.70" opacity="0.025"/>
<circle cx="136.9" cy="687.1" r="2.70" opacity="0.004"/>
<circle cx="136.9" cy="689.4" r="2.70" opacity="0.005"/>
<circle cx="138.9" cy="683.5" r="2.70" opacity="0.012"/>
<circle cx="138.9" cy="685.8" r="2.70" opacity="0.014"/>
<circle cx="141.1" cy="687.1" r="2.70" opacity="0.010"/>
<circle cx="141.1" cy="689.4" r="2.70" opacity="0.012"/>
<circle cx="128.6" cy="694.2" r="2.70" opacity="0.008"/>
<circle cx="128.6" cy="696.6" r="2.70" opacity="0.009"/>
<circle cx="130.8" cy="690.6" r="2.70" opacity="0.010"/>
<circle cx="130.8" cy="693.0" r="2.70" opacity="0.012"/>
<circle cx="132.8" cy="696.6" r="2.70" opacity="0.004"/>
<circle cx="134.8" cy="690.6" r="2.70" opacity="0.017"/>
<circle cx="134.8" cy="693.0" r="2.70" opacity="0.021"/>
<circle cx="136.9" cy="696.6" r="2.70" opacity="0.004"/>
<circle cx="138.9" cy="690.6" r="2.70" opacity="0.010"/>
<circle cx="138.9" cy="693.0" r="2.70" opacity="0.012"/>
<circle cx="141.1" cy="694.2" r="2.70" opacity="0.008"/>
<circle cx="141.1" cy="696.6" r="2.70" opacity="0.009"/>
<circle cx="128.6" cy="701.4" r="2.70" opacity="0.006"/>
<circle cx="128.6" cy="703.8" r="2.70" opacity="0.007"/>
<circle cx="130.8" cy="697.8" r="2.70" opacity="0.008"/>
<circle cx="130.8" cy="700.2" r="2.70" opacity="0.010"/>
<circle cx="134.8" cy="697.8" r="2.70" opacity="0.015"/>
<circle cx="134.8" cy="700.2" r="2.70" opacity="0.018"/>
<circle cx="138.9" cy="697.8" r="2.70" opacity="0.008"/>
<circle cx="138.9" cy="700.2" r="2.70" opacity="0.010"/>
<circle cx="141.1" cy="701.4" r="2.70" opacity="0.006"/>
<circle cx="141.1" cy="703.8" r="2.70" opacity="0.007"/>
<circle cx="128.6" cy="708.6" r="2.70" opacity="0.005"/>
<circle cx="128.6" cy="710.9" r="2.70" opacity="0.006"/>
<circle cx="130.8" cy="705.0" r="2.70" opacity="0.006"/>
<circle cx="130.8" cy="707.4" r="2.70" opacity="0.008"/>
<circle cx="134.8" cy="705.0" r="2.70" opacity="0.013"/>
<circle cx="134.8" cy="707.4" r="2.70" opacity="0.015"/>
<circle cx="138.9" cy="705.0" r="2.70" opacity="0.006"/>
<circle cx="138.9" cy="707.4" r="2.70" opacity="0.008"/>
<circle cx="141.1" cy="708.6" r="2.70" opacity="0.005"/>
<circle cx="141.1" cy="710.9" r="2.70" opacity="0.006"/>
<circle cx="128.6" cy="715.8" r="2.70" opacity="0.004"/>
<circle cx="128.6" cy="718.1" r="2.70" opacity="0.005"/>
<circle cx="130.8" cy="712.2" r="2.70" opacity="0.005"/>
<circle cx="130.8" cy="714.5" r="2.70" opacity="0.006"/>
<circle cx="134.8" cy="712.2" r="2.70" opacity="0.011"/>
<circle cx="134.8" cy="714.5" r="2.70" opacity="0.013"/>
<circle cx="138.9" cy="712.2" r="2.70" opacity="0.005"/>
<circle cx="138.9" cy="714.5" r="2.70" opacity="0.006"/>
<circle cx="141.1" cy="715.8" r="2.70" opacity="0.004"/>
<circle cx="141.1" cy="718.1" r="2.70" opacity="0.005"/>
<circle cx="128.6" cy="725.3" r="2.70" opacity="0.004"/>
<circle cx="130.8" cy="719.4" r="2.70" opacity="0.004"/>
<circle cx="130.8" cy="721.7" r="2.70" opacity="0.005"/>
<circle cx="134.8" cy="719.4" r="2.70" opacity="0.009"/>
<circle cx="134.8" cy="721.7" r="2.70" opacity="0.011"/>
<circle cx="138.9" cy="719.4" r="2.70" opacity="0.004"/>
<circle cx="138.9" cy="721.7" r="2.70" opacity="0.005"/>
<circle cx="141.1" cy="725.3" r="2.70" opacity="0.004"/>
<circle cx="130.8" cy="728.9" r="2.70" opacity="0.004"/>
<circle cx="134.8" cy="726.5" r="2.70" opacity="0.007"/>
<circle cx="134.8" cy="728.9" r="2.70" opacity="0.009"/>
<circle cx="138.9" cy="728.9" r="2.70" opacity="0.004"/>
<circle cx="134.8" cy="733.7" r="2.70" opacity="0.006"/>
</g></g></g>
<line x1="125.50" y1="11.40" x2="125.50" y2="733.30" stroke="#000878" stroke-opacity=".55" stroke-width="1.6"/>
<line x1="143.80" y1="11.40" x2="143.80" y2="733.30" stroke="#000878" stroke-opacity=".55" stroke-width="1.6"/>
<clipPath id="cmb"><rect x="162.10" y="12.20" width="19.70" height="721.10"/></clipPath>
<g filter="url(#jet)"><g clip-path="url(#cmb)">
<rect x="160.1" y="10.2" width="23.7" height="725.1" fill="#000"/>
<g fill="url(#dot)">
<circle cx="172.1" cy="331.6" r="2.70" opacity="0.007"/>
<circle cx="172.1" cy="338.8" r="2.70" opacity="0.008"/>
<circle cx="172.1" cy="341.2" r="2.70" opacity="0.009"/>
<circle cx="172.1" cy="348.4" r="2.70" opacity="0.010"/>
<circle cx="165.9" cy="366.3" r="2.70" opacity="0.007"/>
<circle cx="168.1" cy="362.7" r="2.70" opacity="0.006"/>
<circle cx="170.1" cy="364.0" r="2.70" opacity="0.006"/>
<circle cx="174.2" cy="364.0" r="2.70" opacity="0.006"/>
<circle cx="176.2" cy="362.7" r="2.70" opacity="0.006"/>
<circle cx="178.4" cy="366.3" r="2.70" opacity="0.007"/>
<circle cx="165.9" cy="371.1" r="2.70" opacity="0.007"/>
<circle cx="165.9" cy="373.5" r="2.70" opacity="0.012"/>
<circle cx="168.1" cy="369.9" r="2.70" opacity="0.008"/>
<circle cx="172.1" cy="367.5" r="2.70" opacity="0.016"/>
<circle cx="172.1" cy="369.9" r="2.70" opacity="0.008"/>
<circle cx="176.2" cy="369.9" r="2.70" opacity="0.008"/>
<circle cx="178.4" cy="371.1" r="2.70" opacity="0.007"/>
<circle cx="178.4" cy="373.5" r="2.70" opacity="0.012"/>
<circle cx="165.9" cy="378.3" r="2.70" opacity="0.014"/>
<circle cx="165.9" cy="380.7" r="2.70" opacity="0.009"/>
<circle cx="168.1" cy="374.7" r="2.70" opacity="0.006"/>
<circle cx="168.1" cy="377.1" r="2.70" opacity="0.006"/>
<circle cx="172.1" cy="374.7" r="2.70" opacity="0.020"/>
<circle cx="172.1" cy="377.1" r="2.70" opacity="0.021"/>
<circle cx="176.2" cy="374.7" r="2.70" opacity="0.006"/>
<circle cx="176.2" cy="377.1" r="2.70" opacity="0.006"/>
<circle cx="178.4" cy="378.3" r="2.70" opacity="0.014"/>
<circle cx="178.4" cy="380.7" r="2.70" opacity="0.009"/>
<circle cx="165.9" cy="385.5" r="2.70" opacity="0.011"/>
<circle cx="168.1" cy="381.9" r="2.70" opacity="0.011"/>
<circle cx="170.1" cy="387.8" r="2.70" opacity="0.011"/>
<circle cx="172.1" cy="381.9" r="2.70" opacity="0.010"/>
<circle cx="172.1" cy="384.3" r="2.70" opacity="0.023"/>
<circle cx="174.2" cy="387.8" r="2.70" opacity="0.011"/>
<circle cx="176.2" cy="381.9" r="2.70" opacity="0.011"/>
<circle cx="178.4" cy="385.5" r="2.70" opacity="0.011"/>
<circle cx="168.1" cy="389.1" r="2.70" opacity="0.012"/>
<circle cx="168.1" cy="391.4" r="2.70" opacity="0.008"/>
<circle cx="172.1" cy="391.4" r="2.70" opacity="0.011"/>
<circle cx="176.2" cy="389.1" r="2.70" opacity="0.012"/>
<circle cx="176.2" cy="391.4" r="2.70" opacity="0.008"/>
<circle cx="165.9" cy="402.2" r="2.70" opacity="0.017"/>
<circle cx="168.1" cy="396.3" r="2.70" opacity="0.009"/>
<circle cx="168.1" cy="398.6" r="2.70" opacity="0.015"/>
<circle cx="170.1" cy="399.9" r="2.70" opacity="0.015"/>
<circle cx="172.1" cy="396.3" r="2.70" opacity="0.012"/>
<circle cx="174.2" cy="399.9" r="2.70" opacity="0.015"/>
<circle cx="176.2" cy="396.3" r="2.70" opacity="0.009"/>
<circle cx="176.2" cy="398.6" r="2.70" opacity="0.015"/>
<circle cx="178.4" cy="402.2" r="2.70" opacity="0.017"/>
<circle cx="165.9" cy="407.0" r="2.70" opacity="0.017"/>
<circle cx="165.9" cy="409.4" r="2.70" opacity="0.029"/>
<circle cx="168.1" cy="403.4" r="2.70" opacity="0.008"/>
<circle cx="168.1" cy="405.8" r="2.70" opacity="0.019"/>
<circle cx="170.1" cy="407.0" r="2.70" opacity="0.007"/>
<circle cx="172.1" cy="403.4" r="2.70" opacity="0.037"/>
<circle cx="172.1" cy="405.8" r="2.70" opacity="0.019"/>
<circle cx="174.2" cy="407.0" r="2.70" opacity="0.007"/>
<circle cx="176.2" cy="403.4" r="2.70" opacity="0.008"/>
<circle cx="176.2" cy="405.8" r="2.70" opacity="0.019"/>
<circle cx="178.4" cy="407.0" r="2.70" opacity="0.017"/>
<circle cx="178.4" cy="409.4" r="2.70" opacity="0.029"/>
<circle cx="165.9" cy="414.2" r="2.70" opacity="0.032"/>
<circle cx="165.9" cy="416.6" r="2.70" opacity="0.022"/>
<circle cx="168.1" cy="410.6" r="2.70" opacity="0.014"/>
<circle cx="168.1" cy="413.0" r="2.70" opacity="0.015"/>
<circle cx="170.1" cy="416.6" r="2.70" opacity="0.009"/>
<circle cx="172.1" cy="410.6" r="2.70" opacity="0.047"/>
<circle cx="172.1" cy="413.0" r="2.70" opacity="0.050"/>
<circle cx="174.2" cy="416.6" r="2.70" opacity="0.009"/>
<circle cx="176.2" cy="410.6" r="2.70" opacity="0.014"/>
<circle cx="176.2" cy="413.0" r="2.70" opacity="0.015"/>
<circle cx="178.4" cy="414.2" r="2.70" opacity="0.032"/>
<circle cx="178.4" cy="416.6" r="2.70" opacity="0.022"/>
<circle cx="165.9" cy="421.4" r="2.70" opacity="0.026"/>
<circle cx="165.9" cy="423.7" r="2.70" opacity="0.008"/>
<circle cx="168.1" cy="417.8" r="2.70" opacity="0.025"/>
<circle cx="168.1" cy="420.2" r="2.70" opacity="0.012"/>
<circle cx="170.1" cy="423.7" r="2.70" opacity="0.027"/>
<circle cx="172.1" cy="417.8" r="2.70" opacity="0.024"/>
<circle cx="172.1" cy="420.2" r="2.70" opacity="0.054"/>
<circle cx="174.2" cy="423.7" r="2.70" opacity="0.027"/>
<circle cx="176.2" cy="417.8" r="2.70" opacity="0.025"/>
<circle cx="176.2" cy="420.2" r="2.70" opacity="0.012"/>
<circle cx="178.4" cy="421.4" r="2.70" opacity="0.026"/>
<circle cx="178.4" cy="423.7" r="2.70" opacity="0.008"/>
<circle cx="165.9" cy="428.6" r="2.70" opacity="0.011"/>
<circle cx="165.9" cy="430.9" r="2.70" opacity="0.011"/>
<circle cx="168.1" cy="425.0" r="2.70" opacity="0.028"/>
<circle cx="168.1" cy="427.3" r="2.70" opacity="0.019"/>
<circle cx="170.1" cy="428.6" r="2.70" opacity="0.008"/>
<circle cx="170.1" cy="430.9" r="2.70" opacity="0.009"/>
<circle cx="172.1" cy="425.0" r="2.70" opacity="0.007"/>
<circle cx="172.1" cy="427.3" r="2.70" opacity="0.025"/>
<circle cx="174.2" cy="428.6" r="2.70" opacity="0.008"/>
<circle cx="174.2" cy="430.9" r="2.70" opacity="0.009"/>
<circle cx="176.2" cy="425.0" r="2.70" opacity="0.028"/>
<circle cx="176.2" cy="427.3" r="2.70" opacity="0.019"/>
<circle cx="178.4" cy="428.6" r="2.70" opacity="0.011"/>
<circle cx="178.4" cy="430.9" r="2.70" opacity="0.011"/>
<circle cx="165.9" cy="435.8" r="2.70" opacity="0.011"/>
<circle cx="165.9" cy="438.1" r="2.70" opacity="0.038"/>
<circle cx="168.1" cy="432.2" r="2.70" opacity="0.021"/>
<circle cx="168.1" cy="434.5" r="2.70" opacity="0.035"/>
<circle cx="170.1" cy="435.8" r="2.70" opacity="0.035"/>
<circle cx="172.1" cy="432.2" r="2.70" opacity="0.027"/>
<circle cx="172.1" cy="434.5" r="2.70" opacity="0.009"/>
<circle cx="174.2" cy="435.8" r="2.70" opacity="0.035"/>
<circle cx="176.2" cy="432.2" r="2.70" opacity="0.021"/>
<circle cx="176.2" cy="434.5" r="2.70" opacity="0.035"/>
<circle cx="178.4" cy="435.8" r="2.70" opacity="0.011"/>
<circle cx="178.4" cy="438.1" r="2.70" opacity="0.038"/>
<circle cx="165.9" cy="442.9" r="2.70" opacity="0.039"/>
<circle cx="165.9" cy="445.3" r="2.70" opacity="0.064"/>
<circle cx="168.1" cy="439.3" r="2.70" opacity="0.018"/>
<circle cx="168.1" cy="441.7" r="2.70" opacity="0.044"/>
<circle cx="170.1" cy="442.9" r="2.70" opacity="0.017"/>
<circle cx="172.1" cy="439.3" r="2.70" opacity="0.084"/>
<circle cx="172.1" cy="441.7" r="2.70" opacity="0.042"/>
<circle cx="174.2" cy="442.9" r="2.70" opacity="0.017"/>
<circle cx="176.2" cy="439.3" r="2.70" opacity="0.018"/>
<circle cx="176.2" cy="441.7" r="2.70" opacity="0.044"/>
<circle cx="178.4" cy="442.9" r="2.70" opacity="0.039"/>
<circle cx="178.4" cy="445.3" r="2.70" opacity="0.064"/>
<circle cx="165.9" cy="450.1" r="2.70" opacity="0.071"/>
<circle cx="165.9" cy="452.5" r="2.70" opacity="0.048"/>
<circle cx="168.1" cy="446.5" r="2.70" opacity="0.032"/>
<circle cx="168.1" cy="448.9" r="2.70" opacity="0.034"/>
<circle cx="170.1" cy="450.1" r="2.70" opacity="0.006"/>
<circle cx="170.1" cy="452.5" r="2.70" opacity="0.021"/>
<circle cx="172.1" cy="446.5" r="2.70" opacity="0.106"/>
<circle cx="172.1" cy="448.9" r="2.70" opacity="0.111"/>
<circle cx="174.2" cy="450.1" r="2.70" opacity="0.006"/>
<circle cx="174.2" cy="452.5" r="2.70" opacity="0.021"/>
<circle cx="176.2" cy="446.5" r="2.70" opacity="0.032"/>
<circle cx="176.2" cy="448.9" r="2.70" opacity="0.034"/>
<circle cx="178.4" cy="450.1" r="2.70" opacity="0.071"/>
<circle cx="178.4" cy="452.5" r="2.70" opacity="0.048"/>
<circle cx="165.9" cy="457.3" r="2.70" opacity="0.058"/>
<circle cx="165.9" cy="459.6" r="2.70" opacity="0.018"/>
<circle cx="168.1" cy="453.7" r="2.70" opacity="0.056"/>
<circle cx="168.1" cy="456.1" r="2.70" opacity="0.025"/>
<circle cx="170.1" cy="457.3" r="2.70" opacity="0.007"/>
<circle cx="170.1" cy="459.6" r="2.70" opacity="0.058"/>
<circle cx="172.1" cy="453.7" r="2.70" opacity="0.054"/>
<circle cx="172.1" cy="456.1" r="2.70" opacity="0.120"/>
<circle cx="174.2" cy="457.3" r="2.70" opacity="0.007"/>
<circle cx="174.2" cy="459.6" r="2.70" opacity="0.058"/>
<circle cx="176.2" cy="453.7" r="2.70" opacity="0.056"/>
<circle cx="176.2" cy="456.1" r="2.70" opacity="0.025"/>
<circle cx="178.4" cy="457.3" r="2.70" opacity="0.058"/>
<circle cx="178.4" cy="459.6" r="2.70" opacity="0.018"/>
<circle cx="165.9" cy="464.5" r="2.70" opacity="0.023"/>
<circle cx="165.9" cy="466.8" r="2.70" opacity="0.024"/>
<circle cx="168.1" cy="460.9" r="2.70" opacity="0.062"/>
<circle cx="168.1" cy="463.2" r="2.70" opacity="0.041"/>
<circle cx="170.1" cy="464.5" r="2.70" opacity="0.018"/>
<circle cx="170.1" cy="466.8" r="2.70" opacity="0.019"/>
<circle cx="172.1" cy="460.9" r="2.70" opacity="0.015"/>
<circle cx="172.1" cy="463.2" r="2.70" opacity="0.053"/>
<circle cx="174.2" cy="464.5" r="2.70" opacity="0.018"/>
<circle cx="174.2" cy="466.8" r="2.70" opacity="0.019"/>
<circle cx="176.2" cy="460.9" r="2.70" opacity="0.062"/>
<circle cx="176.2" cy="463.2" r="2.70" opacity="0.041"/>
<circle cx="178.4" cy="464.5" r="2.70" opacity="0.023"/>
<circle cx="178.4" cy="466.8" r="2.70" opacity="0.024"/>
<circle cx="165.9" cy="471.7" r="2.70" opacity="0.023"/>
<circle cx="165.9" cy="474.0" r="2.70" opacity="0.081"/>
<circle cx="168.1" cy="468.1" r="2.70" opacity="0.045"/>
<circle cx="168.1" cy="470.4" r="2.70" opacity="0.074"/>
<circle cx="170.1" cy="471.7" r="2.70" opacity="0.074"/>
<circle cx="170.1" cy="474.0" r="2.70" opacity="0.010"/>
<circle cx="172.1" cy="468.1" r="2.70" opacity="0.058"/>
<circle cx="172.1" cy="470.4" r="2.70" opacity="0.018"/>
<circle cx="174.2" cy="471.7" r="2.70" opacity="0.074"/>
<circle cx="174.2" cy="474.0" r="2.70" opacity="0.010"/>
<circle cx="176.2" cy="468.1" r="2.70" opacity="0.045"/>
<circle cx="176.2" cy="470.4" r="2.70" opacity="0.074"/>
<circle cx="178.4" cy="471.7" r="2.70" opacity="0.023"/>
<circle cx="178.4" cy="474.0" r="2.70" opacity="0.081"/>
<circle cx="165.9" cy="478.8" r="2.70" opacity="0.081"/>
<circle cx="165.9" cy="481.2" r="2.70" opacity="0.132"/>
<circle cx="168.1" cy="475.2" r="2.70" opacity="0.037"/>
<circle cx="168.1" cy="477.6" r="2.70" opacity="0.090"/>
<circle cx="170.1" cy="478.8" r="2.70" opacity="0.035"/>
<circle cx="170.1" cy="481.2" r="2.70" opacity="0.012"/>
<circle cx="172.1" cy="475.2" r="2.70" opacity="0.175"/>
<circle cx="172.1" cy="477.6" r="2.70" opacity="0.087"/>
<circle cx="174.2" cy="478.8" r="2.70" opacity="0.035"/>
<circle cx="174.2" cy="481.2" r="2.70" opacity="0.012"/>
<circle cx="176.2" cy="475.2" r="2.70" opacity="0.037"/>
<circle cx="176.2" cy="477.6" r="2.70" opacity="0.090"/>
<circle cx="178.4" cy="478.8" r="2.70" opacity="0.081"/>
<circle cx="178.4" cy="481.2" r="2.70" opacity="0.132"/>
<circle cx="165.9" cy="486.0" r="2.70" opacity="0.143"/>
<circle cx="165.9" cy="488.4" r="2.70" opacity="0.095"/>
<circle cx="168.1" cy="482.4" r="2.70" opacity="0.066"/>
<circle cx="168.1" cy="484.8" r="2.70" opacity="0.068"/>
<circle cx="170.1" cy="486.0" r="2.70" opacity="0.013"/>
<circle cx="170.1" cy="488.4" r="2.70" opacity="0.041"/>
<circle cx="172.1" cy="482.4" r="2.70" opacity="0.215"/>
<circle cx="172.1" cy="484.8" r="2.70" opacity="0.224"/>
<circle cx="174.2" cy="486.0" r="2.70" opacity="0.013"/>
<circle cx="174.2" cy="488.4" r="2.70" opacity="0.041"/>
<circle cx="176.2" cy="482.4" r="2.70" opacity="0.066"/>
<circle cx="176.2" cy="484.8" r="2.70" opacity="0.068"/>
<circle cx="178.4" cy="486.0" r="2.70" opacity="0.143"/>
<circle cx="178.4" cy="488.4" r="2.70" opacity="0.095"/>
<circle cx="165.9" cy="493.2" r="2.70" opacity="0.113"/>
<circle cx="165.9" cy="495.5" r="2.70" opacity="0.035"/>
<circle cx="168.1" cy="489.6" r="2.70" opacity="0.111"/>
<circle cx="168.1" cy="492.0" r="2.70" opacity="0.050"/>
<circle cx="170.1" cy="493.2" r="2.70" opacity="0.014"/>
<circle cx="170.1" cy="495.5" r="2.70" opacity="0.112"/>
<circle cx="172.1" cy="489.6" r="2.70" opacity="0.107"/>
<circle cx="172.1" cy="492.0" r="2.70" opacity="0.234"/>
<circle cx="174.2" cy="493.2" r="2.70" opacity="0.014"/>
<circle cx="174.2" cy="495.5" r="2.70" opacity="0.112"/>
<circle cx="176.2" cy="489.6" r="2.70" opacity="0.111"/>
<circle cx="176.2" cy="492.0" r="2.70" opacity="0.050"/>
<circle cx="178.4" cy="493.2" r="2.70" opacity="0.113"/>
<circle cx="178.4" cy="495.5" r="2.70" opacity="0.035"/>
<circle cx="165.9" cy="500.4" r="2.70" opacity="0.043"/>
<circle cx="165.9" cy="502.7" r="2.70" opacity="0.044"/>
<circle cx="168.1" cy="496.8" r="2.70" opacity="0.118"/>
<circle cx="168.1" cy="499.1" r="2.70" opacity="0.077"/>
<circle cx="170.1" cy="500.4" r="2.70" opacity="0.033"/>
<circle cx="170.1" cy="502.7" r="2.70" opacity="0.034"/>
<circle cx="172.1" cy="496.8" r="2.70" opacity="0.029"/>
<circle cx="172.1" cy="499.1" r="2.70" opacity="0.100"/>
<circle cx="174.2" cy="500.4" r="2.70" opacity="0.033"/>
<circle cx="174.2" cy="502.7" r="2.70" opacity="0.034"/>
<circle cx="176.2" cy="496.8" r="2.70" opacity="0.118"/>
<circle cx="176.2" cy="499.1" r="2.70" opacity="0.077"/>
<circle cx="178.4" cy="500.4" r="2.70" opacity="0.043"/>
<circle cx="178.4" cy="502.7" r="2.70" opacity="0.044"/>
<circle cx="165.9" cy="507.6" r="2.70" opacity="0.041"/>
<circle cx="165.9" cy="509.9" r="2.70" opacity="0.143"/>
<circle cx="168.1" cy="504.0" r="2.70" opacity="0.082"/>
<circle cx="168.1" cy="506.3" r="2.70" opacity="0.135"/>
<circle cx="170.1" cy="507.6" r="2.70" opacity="0.133"/>
<circle cx="170.1" cy="509.9" r="2.70" opacity="0.018"/>
<circle cx="172.1" cy="504.0" r="2.70" opacity="0.108"/>
<circle cx="172.1" cy="506.3" r="2.70" opacity="0.033"/>
<circle cx="174.2" cy="507.6" r="2.70" opacity="0.133"/>
<circle cx="174.2" cy="509.9" r="2.70" opacity="0.018"/>
<circle cx="176.2" cy="504.0" r="2.70" opacity="0.082"/>
<circle cx="176.2" cy="506.3" r="2.70" opacity="0.135"/>
<circle cx="178.4" cy="507.6" r="2.70" opacity="0.041"/>
<circle cx="178.4" cy="509.9" r="2.70" opacity="0.143"/>
<circle cx="165.9" cy="514.7" r="2.70" opacity="0.139"/>
<circle cx="165.9" cy="517.1" r="2.70" opacity="0.223"/>
<circle cx="168.1" cy="511.1" r="2.70" opacity="0.065"/>
<circle cx="168.1" cy="513.5" r="2.70" opacity="0.157"/>
<circle cx="170.1" cy="514.7" r="2.70" opacity="0.060"/>
<circle cx="170.1" cy="517.1" r="2.70" opacity="0.020"/>
<circle cx="172.1" cy="511.1" r="2.70" opacity="0.308"/>
<circle cx="172.1" cy="513.5" r="2.70" opacity="0.150"/>
<circle cx="174.2" cy="514.7" r="2.70" opacity="0.060"/>
<circle cx="174.2" cy="517.1" r="2.70" opacity="0.020"/>
<circle cx="176.2" cy="511.1" r="2.70" opacity="0.065"/>
<circle cx="176.2" cy="513.5" r="2.70" opacity="0.157"/>
<circle cx="178.4" cy="514.7" r="2.70" opacity="0.139"/>
<circle cx="178.4" cy="517.1" r="2.70" opacity="0.223"/>
<circle cx="165.9" cy="521.9" r="2.70" opacity="0.234"/>
<circle cx="165.9" cy="524.3" r="2.70" opacity="0.153"/>
<circle cx="168.1" cy="518.3" r="2.70" opacity="0.110"/>
<circle cx="168.1" cy="520.7" r="2.70" opacity="0.113"/>
<circle cx="170.1" cy="521.9" r="2.70" opacity="0.021"/>
<circle cx="170.1" cy="524.3" r="2.70" opacity="0.066"/>
<circle cx="172.1" cy="518.3" r="2.70" opacity="0.361"/>
<circle cx="172.1" cy="520.7" r="2.70" opacity="0.369"/>
<circle cx="174.2" cy="521.9" r="2.70" opacity="0.021"/>
<circle cx="174.2" cy="524.3" r="2.70" opacity="0.066"/>
<circle cx="176.2" cy="518.3" r="2.70" opacity="0.110"/>
<circle cx="176.2" cy="520.7" r="2.70" opacity="0.113"/>
<circle cx="178.4" cy="521.9" r="2.70" opacity="0.234"/>
<circle cx="178.4" cy="524.3" r="2.70" opacity="0.153"/>
<circle cx="165.9" cy="529.1" r="2.70" opacity="0.174"/>
<circle cx="165.9" cy="531.4" r="2.70" opacity="0.052"/>
<circle cx="168.1" cy="525.5" r="2.70" opacity="0.177"/>
<circle cx="168.1" cy="527.9" r="2.70" opacity="0.077"/>
<circle cx="170.1" cy="529.1" r="2.70" opacity="0.021"/>
<circle cx="170.1" cy="531.4" r="2.70" opacity="0.169"/>
<circle cx="172.1" cy="525.5" r="2.70" opacity="0.170"/>
<circle cx="172.1" cy="527.9" r="2.70" opacity="0.365"/>
<circle cx="174.2" cy="529.1" r="2.70" opacity="0.021"/>
<circle cx="174.2" cy="531.4" r="2.70" opacity="0.169"/>
<circle cx="176.2" cy="525.5" r="2.70" opacity="0.177"/>
<circle cx="176.2" cy="527.9" r="2.70" opacity="0.077"/>
<circle cx="178.4" cy="529.1" r="2.70" opacity="0.174"/>
<circle cx="178.4" cy="531.4" r="2.70" opacity="0.052"/>
<circle cx="165.9" cy="536.3" r="2.70" opacity="0.062"/>
<circle cx="165.9" cy="538.6" r="2.70" opacity="0.063"/>
<circle cx="168.1" cy="532.7" r="2.70" opacity="0.177"/>
<circle cx="168.1" cy="535.0" r="2.70" opacity="0.112"/>
<circle cx="170.1" cy="536.3" r="2.70" opacity="0.048"/>
<circle cx="170.1" cy="538.6" r="2.70" opacity="0.049"/>
<circle cx="172.1" cy="532.7" r="2.70" opacity="0.043"/>
<circle cx="172.1" cy="535.0" r="2.70" opacity="0.147"/>
<circle cx="174.2" cy="536.3" r="2.70" opacity="0.048"/>
<circle cx="174.2" cy="538.6" r="2.70" opacity="0.049"/>
<circle cx="176.2" cy="532.7" r="2.70" opacity="0.177"/>
<circle cx="176.2" cy="535.0" r="2.70" opacity="0.112"/>
<circle cx="178.4" cy="536.3" r="2.70" opacity="0.062"/>
<circle cx="178.4" cy="538.6" r="2.70" opacity="0.063"/>
<circle cx="165.9" cy="543.5" r="2.70" opacity="0.056"/>
<circle cx="165.9" cy="545.8" r="2.70" opacity="0.190"/>
<circle cx="168.1" cy="539.9" r="2.70" opacity="0.115"/>
<circle cx="168.1" cy="542.2" r="2.70" opacity="0.186"/>
<circle cx="170.1" cy="543.5" r="2.70" opacity="0.181"/>
<circle cx="170.1" cy="545.8" r="2.70" opacity="0.023"/>
<circle cx="172.1" cy="539.9" r="2.70" opacity="0.151"/>
<circle cx="172.1" cy="542.2" r="2.70" opacity="0.045"/>
<circle cx="174.2" cy="543.5" r="2.70" opacity="0.181"/>
<circle cx="174.2" cy="545.8" r="2.70" opacity="0.023"/>
<circle cx="176.2" cy="539.9" r="2.70" opacity="0.115"/>
<circle cx="176.2" cy="542.2" r="2.70" opacity="0.186"/>
<circle cx="178.4" cy="543.5" r="2.70" opacity="0.056"/>
<circle cx="178.4" cy="545.8" r="2.70" opacity="0.190"/>
<circle cx="165.9" cy="550.6" r="2.70" opacity="0.176"/>
<circle cx="165.9" cy="553.0" r="2.70" opacity="0.276"/>
<circle cx="168.1" cy="547.0" r="2.70" opacity="0.086"/>
<circle cx="168.1" cy="549.4" r="2.70" opacity="0.201"/>
<circle cx="170.1" cy="550.6" r="2.70" opacity="0.076"/>
<circle cx="170.1" cy="553.0" r="2.70" opacity="0.024"/>
<circle cx="172.1" cy="547.0" r="2.70" opacity="0.405"/>
<circle cx="172.1" cy="549.4" r="2.70" opacity="0.193"/>
<circle cx="174.2" cy="550.6" r="2.70" opacity="0.076"/>
<circle cx="174.2" cy="553.0" r="2.70" opacity="0.024"/>
<circle cx="176.2" cy="547.0" r="2.70" opacity="0.086"/>
<circle cx="176.2" cy="549.4" r="2.70" opacity="0.201"/>
<circle cx="178.4" cy="550.6" r="2.70" opacity="0.176"/>
<circle cx="178.4" cy="553.0" r="2.70" opacity="0.276"/>
<circle cx="165.9" cy="557.8" r="2.70" opacity="0.276"/>
<circle cx="165.9" cy="560.2" r="2.70" opacity="0.176"/>
<circle cx="168.1" cy="554.2" r="2.70" opacity="0.134"/>
<circle cx="168.1" cy="556.6" r="2.70" opacity="0.134"/>
<circle cx="170.1" cy="557.8" r="2.70" opacity="0.024"/>
<circle cx="170.1" cy="560.2" r="2.70" opacity="0.076"/>
<circle cx="172.1" cy="554.2" r="2.70" opacity="0.441"/>
<circle cx="172.1" cy="556.6" r="2.70" opacity="0.441"/>
<circle cx="174.2" cy="557.8" r="2.70" opacity="0.024"/>
<circle cx="174.2" cy="560.2" r="2.70" opacity="0.076"/>
<circle cx="176.2" cy="554.2" r="2.70" opacity="0.134"/>
<circle cx="176.2" cy="556.6" r="2.70" opacity="0.134"/>
<circle cx="178.4" cy="557.8" r="2.70" opacity="0.276"/>
<circle cx="178.4" cy="560.2" r="2.70" opacity="0.176"/>
<circle cx="165.9" cy="565.0" r="2.70" opacity="0.190"/>
<circle cx="165.9" cy="567.3" r="2.70" opacity="0.056"/>
<circle cx="168.1" cy="561.4" r="2.70" opacity="0.201"/>
<circle cx="168.1" cy="563.8" r="2.70" opacity="0.086"/>
<circle cx="170.1" cy="565.0" r="2.70" opacity="0.023"/>
<circle cx="170.1" cy="567.3" r="2.70" opacity="0.181"/>
<circle cx="172.1" cy="561.4" r="2.70" opacity="0.193"/>
<circle cx="172.1" cy="563.8" r="2.70" opacity="0.405"/>
<circle cx="174.2" cy="565.0" r="2.70" opacity="0.023"/>
<circle cx="174.2" cy="567.3" r="2.70" opacity="0.181"/>
<circle cx="176.2" cy="561.4" r="2.70" opacity="0.201"/>
<circle cx="176.2" cy="563.8" r="2.70" opacity="0.086"/>
<circle cx="178.4" cy="565.0" r="2.70" opacity="0.190"/>
<circle cx="178.4" cy="567.3" r="2.70" opacity="0.056"/>
<circle cx="165.9" cy="572.2" r="2.70" opacity="0.063"/>
<circle cx="165.9" cy="574.5" r="2.70" opacity="0.062"/>
<circle cx="168.1" cy="568.6" r="2.70" opacity="0.186"/>
<circle cx="168.1" cy="570.9" r="2.70" opacity="0.115"/>
<circle cx="170.1" cy="572.2" r="2.70" opacity="0.049"/>
<circle cx="170.1" cy="574.5" r="2.70" opacity="0.048"/>
<circle cx="172.1" cy="568.6" r="2.70" opacity="0.045"/>
<circle cx="172.1" cy="570.9" r="2.70" opacity="0.151"/>
<circle cx="174.2" cy="572.2" r="2.70" opacity="0.049"/>
<circle cx="174.2" cy="574.5" r="2.70" opacity="0.048"/>
<circle cx="176.2" cy="568.6" r="2.70" opacity="0.186"/>
<circle cx="176.2" cy="570.9" r="2.70" opacity="0.115"/>
<circle cx="178.4" cy="572.2" r="2.70" opacity="0.063"/>
<circle cx="178.4" cy="574.5" r="2.70" opacity="0.062"/>
<circle cx="165.9" cy="579.4" r="2.70" opacity="0.052"/>
<circle cx="165.9" cy="581.7" r="2.70" opacity="0.174"/>
<circle cx="168.1" cy="575.8" r="2.70" opacity="0.112"/>
<circle cx="168.1" cy="578.1" r="2.70" opacity="0.177"/>
<circle cx="170.1" cy="579.4" r="2.70" opacity="0.169"/>
<circle cx="170.1" cy="581.7" r="2.70" opacity="0.021"/>
<circle cx="172.1" cy="575.8" r="2.70" opacity="0.147"/>
<circle cx="172.1" cy="578.1" r="2.70" opacity="0.043"/>
<circle cx="174.2" cy="579.4" r="2.70" opacity="0.169"/>
<circle cx="174.2" cy="581.7" r="2.70" opacity="0.021"/>
<circle cx="176.2" cy="575.8" r="2.70" opacity="0.112"/>
<circle cx="176.2" cy="578.1" r="2.70" opacity="0.177"/>
<circle cx="178.4" cy="579.4" r="2.70" opacity="0.052"/>
<circle cx="178.4" cy="581.7" r="2.70" opacity="0.174"/>
<circle cx="165.9" cy="586.5" r="2.70" opacity="0.153"/>
<circle cx="165.9" cy="588.9" r="2.70" opacity="0.234"/>
<circle cx="168.1" cy="582.9" r="2.70" opacity="0.077"/>
<circle cx="168.1" cy="585.3" r="2.70" opacity="0.177"/>
<circle cx="170.1" cy="586.5" r="2.70" opacity="0.066"/>
<circle cx="170.1" cy="588.9" r="2.70" opacity="0.021"/>
<circle cx="172.1" cy="582.9" r="2.70" opacity="0.365"/>
<circle cx="172.1" cy="585.3" r="2.70" opacity="0.170"/>
<circle cx="174.2" cy="586.5" r="2.70" opacity="0.066"/>
<circle cx="174.2" cy="588.9" r="2.70" opacity="0.021"/>
<circle cx="176.2" cy="582.9" r="2.70" opacity="0.077"/>
<circle cx="176.2" cy="585.3" r="2.70" opacity="0.177"/>
<circle cx="178.4" cy="586.5" r="2.70" opacity="0.153"/>
<circle cx="178.4" cy="588.9" r="2.70" opacity="0.234"/>
<circle cx="165.9" cy="593.7" r="2.70" opacity="0.223"/>
<circle cx="165.9" cy="596.1" r="2.70" opacity="0.139"/>
<circle cx="168.1" cy="590.1" r="2.70" opacity="0.113"/>
<circle cx="168.1" cy="592.5" r="2.70" opacity="0.110"/>
<circle cx="170.1" cy="593.7" r="2.70" opacity="0.020"/>
<circle cx="170.1" cy="596.1" r="2.70" opacity="0.060"/>
<circle cx="172.1" cy="590.1" r="2.70" opacity="0.369"/>
<circle cx="172.1" cy="592.5" r="2.70" opacity="0.361"/>
<circle cx="174.2" cy="593.7" r="2.70" opacity="0.020"/>
<circle cx="174.2" cy="596.1" r="2.70" opacity="0.060"/>
<circle cx="176.2" cy="590.1" r="2.70" opacity="0.113"/>
<circle cx="176.2" cy="592.5" r="2.70" opacity="0.110"/>
<circle cx="178.4" cy="593.7" r="2.70" opacity="0.223"/>
<circle cx="178.4" cy="596.1" r="2.70" opacity="0.139"/>
<circle cx="165.9" cy="600.9" r="2.70" opacity="0.143"/>
<circle cx="165.9" cy="603.2" r="2.70" opacity="0.041"/>
<circle cx="168.1" cy="597.3" r="2.70" opacity="0.157"/>
<circle cx="168.1" cy="599.7" r="2.70" opacity="0.065"/>
<circle cx="170.1" cy="600.9" r="2.70" opacity="0.018"/>
<circle cx="170.1" cy="603.2" r="2.70" opacity="0.133"/>
<circle cx="172.1" cy="597.3" r="2.70" opacity="0.150"/>
<circle cx="172.1" cy="599.7" r="2.70" opacity="0.308"/>
<circle cx="174.2" cy="600.9" r="2.70" opacity="0.018"/>
<circle cx="174.2" cy="603.2" r="2.70" opacity="0.133"/>
<circle cx="176.2" cy="597.3" r="2.70" opacity="0.157"/>
<circle cx="176.2" cy="599.7" r="2.70" opacity="0.065"/>
<circle cx="178.4" cy="600.9" r="2.70" opacity="0.143"/>
<circle cx="178.4" cy="603.2" r="2.70" opacity="0.041"/>
<circle cx="165.9" cy="608.1" r="2.70" opacity="0.044"/>
<circle cx="165.9" cy="610.4" r="2.70" opacity="0.043"/>
<circle cx="168.1" cy="604.5" r="2.70" opacity="0.135"/>
<circle cx="168.1" cy="606.8" r="2.70" opacity="0.082"/>
<circle cx="170.1" cy="608.1" r="2.70" opacity="0.034"/>
<circle cx="170.1" cy="610.4" r="2.70" opacity="0.033"/>
<circle cx="172.1" cy="604.5" r="2.70" opacity="0.033"/>
<circle cx="172.1" cy="606.8" r="2.70" opacity="0.108"/>
<circle cx="174.2" cy="608.1" r="2.70" opacity="0.034"/>
<circle cx="174.2" cy="610.4" r="2.70" opacity="0.033"/>
<circle cx="176.2" cy="604.5" r="2.70" opacity="0.135"/>
<circle cx="176.2" cy="606.8" r="2.70" opacity="0.082"/>
<circle cx="178.4" cy="608.1" r="2.70" opacity="0.044"/>
<circle cx="178.4" cy="610.4" r="2.70" opacity="0.043"/>
<circle cx="165.9" cy="615.3" r="2.70" opacity="0.035"/>
<circle cx="165.9" cy="617.6" r="2.70" opacity="0.113"/>
<circle cx="168.1" cy="611.7" r="2.70" opacity="0.077"/>
<circle cx="168.1" cy="614.0" r="2.70" opacity="0.118"/>
<circle cx="170.1" cy="615.3" r="2.70" opacity="0.112"/>
<circle cx="170.1" cy="617.6" r="2.70" opacity="0.014"/>
<circle cx="172.1" cy="611.7" r="2.70" opacity="0.100"/>
<circle cx="172.1" cy="614.0" r="2.70" opacity="0.029"/>
<circle cx="174.2" cy="615.3" r="2.70" opacity="0.112"/>
<circle cx="174.2" cy="617.6" r="2.70" opacity="0.014"/>
<circle cx="176.2" cy="611.7" r="2.70" opacity="0.077"/>
<circle cx="176.2" cy="614.0" r="2.70" opacity="0.118"/>
<circle cx="178.4" cy="615.3" r="2.70" opacity="0.035"/>
<circle cx="178.4" cy="617.6" r="2.70" opacity="0.113"/>
<circle cx="165.9" cy="622.4" r="2.70" opacity="0.095"/>
<circle cx="165.9" cy="624.8" r="2.70" opacity="0.143"/>
<circle cx="168.1" cy="618.8" r="2.70" opacity="0.050"/>
<circle cx="168.1" cy="621.2" r="2.70" opacity="0.111"/>
<circle cx="170.1" cy="622.4" r="2.70" opacity="0.041"/>
<circle cx="170.1" cy="624.8" r="2.70" opacity="0.013"/>
<circle cx="172.1" cy="618.8" r="2.70" opacity="0.234"/>
<circle cx="172.1" cy="621.2" r="2.70" opacity="0.107"/>
<circle cx="174.2" cy="622.4" r="2.70" opacity="0.041"/>
<circle cx="174.2" cy="624.8" r="2.70" opacity="0.013"/>
<circle cx="176.2" cy="618.8" r="2.70" opacity="0.050"/>
<circle cx="176.2" cy="621.2" r="2.70" opacity="0.111"/>
<circle cx="178.4" cy="622.4" r="2.70" opacity="0.095"/>
<circle cx="178.4" cy="624.8" r="2.70" opacity="0.143"/>
<circle cx="165.9" cy="629.6" r="2.70" opacity="0.132"/>
<circle cx="165.9" cy="632.0" r="2.70" opacity="0.081"/>
<circle cx="168.1" cy="626.0" r="2.70" opacity="0.068"/>
<circle cx="168.1" cy="628.4" r="2.70" opacity="0.066"/>
<circle cx="170.1" cy="629.6" r="2.70" opacity="0.012"/>
<circle cx="170.1" cy="632.0" r="2.70" opacity="0.035"/>
<circle cx="172.1" cy="626.0" r="2.70" opacity="0.224"/>
<circle cx="172.1" cy="628.4" r="2.70" opacity="0.215"/>
<circle cx="174.2" cy="629.6" r="2.70" opacity="0.012"/>
<circle cx="174.2" cy="632.0" r="2.70" opacity="0.035"/>
<circle cx="176.2" cy="626.0" r="2.70" opacity="0.068"/>
<circle cx="176.2" cy="628.4" r="2.70" opacity="0.066"/>
<circle cx="178.4" cy="629.6" r="2.70" opacity="0.132"/>
<circle cx="178.4" cy="632.0" r="2.70" opacity="0.081"/>
<circle cx="165.9" cy="636.8" r="2.70" opacity="0.081"/>
<circle cx="165.9" cy="639.1" r="2.70" opacity="0.023"/>
<circle cx="168.1" cy="633.2" r="2.70" opacity="0.090"/>
<circle cx="168.1" cy="635.6" r="2.70" opacity="0.037"/>
<circle cx="170.1" cy="636.8" r="2.70" opacity="0.010"/>
<circle cx="170.1" cy="639.1" r="2.70" opacity="0.074"/>
<circle cx="172.1" cy="633.2" r="2.70" opacity="0.087"/>
<circle cx="172.1" cy="635.6" r="2.70" opacity="0.175"/>
<circle cx="174.2" cy="636.8" r="2.70" opacity="0.010"/>
<circle cx="174.2" cy="639.1" r="2.70" opacity="0.074"/>
<circle cx="176.2" cy="633.2" r="2.70" opacity="0.090"/>
<circle cx="176.2" cy="635.6" r="2.70" opacity="0.037"/>
<circle cx="178.4" cy="636.8" r="2.70" opacity="0.081"/>
<circle cx="178.4" cy="639.1" r="2.70" opacity="0.023"/>
<circle cx="165.9" cy="644.0" r="2.70" opacity="0.014"/>
<circle cx="165.9" cy="646.3" r="2.70" opacity="0.014"/>
<circle cx="168.1" cy="640.4" r="2.70" opacity="0.045"/>
<circle cx="168.1" cy="642.7" r="2.70" opacity="0.027"/>
<circle cx="170.1" cy="644.0" r="2.70" opacity="0.011"/>
<circle cx="170.1" cy="646.3" r="2.70" opacity="0.011"/>
<circle cx="172.1" cy="640.4" r="2.70" opacity="0.011"/>
<circle cx="172.1" cy="642.7" r="2.70" opacity="0.035"/>
<circle cx="174.2" cy="644.0" r="2.70" opacity="0.011"/>
<circle cx="174.2" cy="646.3" r="2.70" opacity="0.011"/>
<circle cx="176.2" cy="640.4" r="2.70" opacity="0.045"/>
<circle cx="176.2" cy="642.7" r="2.70" opacity="0.027"/>
<circle cx="178.4" cy="644.0" r="2.70" opacity="0.014"/>
<circle cx="178.4" cy="646.3" r="2.70" opacity="0.014"/>
<circle cx="165.9" cy="651.2" r="2.70" opacity="0.011"/>
<circle cx="165.9" cy="653.5" r="2.70" opacity="0.035"/>
<circle cx="168.1" cy="647.6" r="2.70" opacity="0.024"/>
<circle cx="168.1" cy="649.9" r="2.70" opacity="0.037"/>
<circle cx="170.1" cy="651.2" r="2.70" opacity="0.035"/>
<circle cx="170.1" cy="653.5" r="2.70" opacity="0.004"/>
<circle cx="172.1" cy="647.6" r="2.70" opacity="0.032"/>
<circle cx="172.1" cy="649.9" r="2.70" opacity="0.009"/>
<circle cx="174.2" cy="651.2" r="2.70" opacity="0.035"/>
<circle cx="174.2" cy="653.5" r="2.70" opacity="0.004"/>
<circle cx="176.2" cy="647.6" r="2.70" opacity="0.024"/>
<circle cx="176.2" cy="649.9" r="2.70" opacity="0.037"/>
<circle cx="178.4" cy="651.2" r="2.70" opacity="0.011"/>
<circle cx="178.4" cy="653.5" r="2.70" opacity="0.035"/>
<circle cx="165.9" cy="658.3" r="2.70" opacity="0.029"/>
<circle cx="165.9" cy="660.7" r="2.70" opacity="0.043"/>
<circle cx="168.1" cy="654.7" r="2.70" opacity="0.015"/>
<circle cx="168.1" cy="657.1" r="2.70" opacity="0.034"/>
<circle cx="170.1" cy="658.3" r="2.70" opacity="0.012"/>
<circle cx="170.1" cy="660.7" r="2.70" opacity="0.004"/>
<circle cx="172.1" cy="654.7" r="2.70" opacity="0.072"/>
<circle cx="172.1" cy="657.1" r="2.70" opacity="0.032"/>
<circle cx="174.2" cy="658.3" r="2.70" opacity="0.012"/>
<circle cx="174.2" cy="660.7" r="2.70" opacity="0.004"/>
<circle cx="176.2" cy="654.7" r="2.70" opacity="0.015"/>
<circle cx="176.2" cy="657.1" r="2.70" opacity="0.034"/>
<circle cx="178.4" cy="658.3" r="2.70" opacity="0.029"/>
<circle cx="178.4" cy="660.7" r="2.70" opacity="0.043"/>
<circle cx="165.9" cy="665.5" r="2.70" opacity="0.039"/>
<circle cx="165.9" cy="667.9" r="2.70" opacity="0.024"/>
<circle cx="168.1" cy="661.9" r="2.70" opacity="0.020"/>
<circle cx="168.1" cy="664.3" r="2.70" opacity="0.019"/>
<circle cx="170.1" cy="667.9" r="2.70" opacity="0.010"/>
<circle cx="172.1" cy="661.9" r="2.70" opacity="0.067"/>
<circle cx="172.1" cy="664.3" r="2.70" opacity="0.063"/>
<circle cx="174.2" cy="667.9" r="2.70" opacity="0.010"/>
<circle cx="176.2" cy="661.9" r="2.70" opacity="0.020"/>
<circle cx="176.2" cy="664.3" r="2.70" opacity="0.019"/>
<circle cx="178.4" cy="665.5" r="2.70" opacity="0.039"/>
<circle cx="178.4" cy="667.9" r="2.70" opacity="0.024"/>
<circle cx="165.9" cy="672.7" r="2.70" opacity="0.023"/>
<circle cx="165.9" cy="675.0" r="2.70" opacity="0.006"/>
<circle cx="168.1" cy="669.1" r="2.70" opacity="0.026"/>
<circle cx="168.1" cy="671.5" r="2.70" opacity="0.011"/>
<circle cx="170.1" cy="675.0" r="2.70" opacity="0.021"/>
<circle cx="172.1" cy="669.1" r="2.70" opacity="0.025"/>
<circle cx="172.1" cy="671.5" r="2.70" opacity="0.050"/>
<circle cx="174.2" cy="675.0" r="2.70" opacity="0.021"/>
<circle cx="176.2" cy="669.1" r="2.70" opacity="0.026"/>
<circle cx="176.2" cy="671.5" r="2.70" opacity="0.011"/>
<circle cx="178.4" cy="672.7" r="2.70" opacity="0.023"/>
<circle cx="178.4" cy="675.0" r="2.70" opacity="0.006"/>
<circle cx="165.9" cy="679.9" r="2.70" opacity="0.007"/>
<circle cx="165.9" cy="682.2" r="2.70" opacity="0.006"/>
<circle cx="168.1" cy="676.3" r="2.70" opacity="0.021"/>
<circle cx="168.1" cy="678.6" r="2.70" opacity="0.013"/>
<circle cx="170.1" cy="679.9" r="2.70" opacity="0.005"/>
<circle cx="170.1" cy="682.2" r="2.70" opacity="0.005"/>
<circle cx="172.1" cy="676.3" r="2.70" opacity="0.005"/>
<circle cx="172.1" cy="678.6" r="2.70" opacity="0.016"/>
<circle cx="174.2" cy="679.9" r="2.70" opacity="0.005"/>
<circle cx="174.2" cy="682.2" r="2.70" opacity="0.005"/>
<circle cx="176.2" cy="676.3" r="2.70" opacity="0.021"/>
<circle cx="176.2" cy="678.6" r="2.70" opacity="0.013"/>
<circle cx="178.4" cy="679.9" r="2.70" opacity="0.007"/>
<circle cx="178.4" cy="682.2" r="2.70" opacity="0.006"/>
<circle cx="165.9" cy="687.1" r="2.70" opacity="0.005"/>
<circle cx="165.9" cy="689.4" r="2.70" opacity="0.016"/>
<circle cx="168.1" cy="683.5" r="2.70" opacity="0.011"/>
<circle cx="168.1" cy="685.8" r="2.70" opacity="0.017"/>
<circle cx="170.1" cy="687.1" r="2.70" opacity="0.016"/>
<circle cx="172.1" cy="683.5" r="2.70" opacity="0.015"/>
<circle cx="172.1" cy="685.8" r="2.70" opacity="0.004"/>
<circle cx="174.2" cy="687.1" r="2.70" opacity="0.016"/>
<circle cx="176.2" cy="683.5" r="2.70" opacity="0.011"/>
<circle cx="176.2" cy="685.8" r="2.70" opacity="0.017"/>
<circle cx="178.4" cy="687.1" r="2.70" opacity="0.005"/>
<circle cx="178.4" cy="689.4" r="2.70" opacity="0.016"/>
<circle cx="165.9" cy="694.2" r="2.70" opacity="0.013"/>
<circle cx="165.9" cy="696.6" r="2.70" opacity="0.019"/>
<circle cx="168.1" cy="690.6" r="2.70" opacity="0.007"/>
<circle cx="168.1" cy="693.0" r="2.70" opacity="0.015"/>
<circle cx="170.1" cy="694.2" r="2.70" opacity="0.006"/>
<circle cx="172.1" cy="690.6" r="2.70" opacity="0.033"/>
<circle cx="172.1" cy="693.0" r="2.70" opacity="0.015"/>
<circle cx="174.2" cy="694.2" r="2.70" opacity="0.006"/>
<circle cx="176.2" cy="690.6" r="2.70" opacity="0.007"/>
<circle cx="176.2" cy="693.0" r="2.70" opacity="0.015"/>
<circle cx="178.4" cy="694.2" r="2.70" opacity="0.013"/>
<circle cx="178.4" cy="696.6" r="2.70" opacity="0.019"/>
<circle cx="165.9" cy="701.4" r="2.70" opacity="0.017"/>
<circle cx="165.9" cy="703.8" r="2.70" opacity="0.010"/>
<circle cx="168.1" cy="697.8" r="2.70" opacity="0.009"/>
<circle cx="168.1" cy="700.2" r="2.70" opacity="0.009"/>
<circle cx="170.1" cy="703.8" r="2.70" opacity="0.004"/>
<circle cx="172.1" cy="697.8" r="2.70" opacity="0.030"/>
<circle cx="172.1" cy="700.2" r="2.70" opacity="0.028"/>
<circle cx="174.2" cy="703.8" r="2.70" opacity="0.004"/>
<circle cx="176.2" cy="697.8" r="2.70" opacity="0.009"/>
<circle cx="176.2" cy="700.2" r="2.70" opacity="0.009"/>
<circle cx="178.4" cy="701.4" r="2.70" opacity="0.017"/>
<circle cx="178.4" cy="703.8" r="2.70" opacity="0.010"/>
<circle cx="165.9" cy="708.6" r="2.70" opacity="0.010"/>
<circle cx="168.1" cy="705.0" r="2.70" opacity="0.012"/>
<circle cx="168.1" cy="707.4" r="2.70" opacity="0.005"/>
<circle cx="170.1" cy="710.9" r="2.70" opacity="0.009"/>
<circle cx="172.1" cy="705.0" r="2.70" opacity="0.011"/>
<circle cx="172.1" cy="707.4" r="2.70" opacity="0.022"/>
<circle cx="174.2" cy="710.9" r="2.70" opacity="0.009"/>
<circle cx="176.2" cy="705.0" r="2.70" opacity="0.012"/>
<circle cx="176.2" cy="707.4" r="2.70" opacity="0.005"/>
<circle cx="178.4" cy="708.6" r="2.70" opacity="0.010"/>
<circle cx="168.1" cy="712.2" r="2.70" opacity="0.009"/>
<circle cx="168.1" cy="714.5" r="2.70" opacity="0.005"/>
<circle cx="172.1" cy="714.5" r="2.70" opacity="0.007"/>
<circle cx="176.2" cy="712.2" r="2.70" opacity="0.009"/>
<circle cx="176.2" cy="714.5" r="2.70" opacity="0.005"/>
<circle cx="165.9" cy="725.3" r="2.70" opacity="0.007"/>
<circle cx="168.1" cy="719.4" r="2.70" opacity="0.005"/>
<circle cx="168.1" cy="721.7" r="2.70" opacity="0.007"/>
<circle cx="170.1" cy="723.0" r="2.70" opacity="0.007"/>
<circle cx="172.1" cy="719.4" r="2.70" opacity="0.006"/>
<circle cx="174.2" cy="723.0" r="2.70" opacity="0.007"/>
<circle cx="176.2" cy="719.4" r="2.70" opacity="0.005"/>
<circle cx="176.2" cy="721.7" r="2.70" opacity="0.007"/>
<circle cx="178.4" cy="725.3" r="2.70" opacity="0.007"/>
<circle cx="165.9" cy="730.1" r="2.70" opacity="0.006"/>
<circle cx="165.9" cy="732.5" r="2.70" opacity="0.008"/>
<circle cx="168.1" cy="728.9" r="2.70" opacity="0.007"/>
<circle cx="172.1" cy="726.5" r="2.70" opacity="0.014"/>
<circle cx="172.1" cy="728.9" r="2.70" opacity="0.006"/>
<circle cx="176.2" cy="728.9" r="2.70" opacity="0.007"/>
<circle cx="178.4" cy="730.1" r="2.70" opacity="0.006"/>
<circle cx="178.4" cy="732.5" r="2.70" opacity="0.008"/>
<circle cx="168.1" cy="733.7" r="2.70" opacity="0.004"/>
<circle cx="172.1" cy="733.7" r="2.70" opacity="0.013"/>
<circle cx="176.2" cy="733.7" r="2.70" opacity="0.004"/>
</g></g></g>
<line x1="162.90" y1="12.20" x2="162.90" y2="733.30" stroke="#000878" stroke-opacity=".55" stroke-width="1.6"/>
<line x1="181.00" y1="12.20" x2="181.00" y2="733.30" stroke="#000878" stroke-opacity=".55" stroke-width="1.6"/>
<clipPath id="cia"><rect x="318.40" y="104.30" width="67.90" height="542.90"/></clipPath>
<g filter="url(#jet)"><g clip-path="url(#cia)">
<rect x="316.4" y="102.3" width="71.9" height="546.9" fill="#000"/>
<g fill="url(#dot)">
<circle cx="330.8" cy="104.1" r="9.00" opacity="0.136"/>
<circle cx="330.8" cy="112.4" r="9.00" opacity="0.112"/>
<circle cx="338.4" cy="99.8" r="9.00" opacity="0.088"/>
<circle cx="345.4" cy="104.1" r="9.00" opacity="0.052"/>
<circle cx="345.4" cy="112.4" r="9.00" opacity="0.043"/>
<circle cx="352.8" cy="99.8" r="9.00" opacity="0.132"/>
<circle cx="360.1" cy="104.1" r="9.00" opacity="0.052"/>
<circle cx="360.1" cy="112.4" r="9.00" opacity="0.043"/>
<circle cx="367.1" cy="99.8" r="9.00" opacity="0.088"/>
<circle cx="374.8" cy="104.1" r="9.00" opacity="0.136"/>
<circle cx="374.8" cy="112.4" r="9.00" opacity="0.112"/>
<circle cx="330.8" cy="129.3" r="9.00" opacity="0.165"/>
<circle cx="330.8" cy="137.5" r="9.00" opacity="0.135"/>
<circle cx="338.4" cy="116.7" r="9.00" opacity="0.128"/>
<circle cx="338.4" cy="124.9" r="9.00" opacity="0.104"/>
<circle cx="345.4" cy="129.3" r="9.00" opacity="0.062"/>
<circle cx="345.4" cy="137.5" r="9.00" opacity="0.051"/>
<circle cx="352.8" cy="116.7" r="9.00" opacity="0.194"/>
<circle cx="352.8" cy="124.9" r="9.00" opacity="0.158"/>
<circle cx="360.1" cy="129.3" r="9.00" opacity="0.062"/>
<circle cx="360.1" cy="137.5" r="9.00" opacity="0.051"/>
<circle cx="367.1" cy="116.7" r="9.00" opacity="0.128"/>
<circle cx="367.1" cy="124.9" r="9.00" opacity="0.104"/>
<circle cx="374.8" cy="129.3" r="9.00" opacity="0.165"/>
<circle cx="374.8" cy="137.5" r="9.00" opacity="0.135"/>
<circle cx="330.8" cy="154.4" r="9.00" opacity="0.198"/>
<circle cx="330.8" cy="162.6" r="9.00" opacity="0.162"/>
<circle cx="338.4" cy="141.8" r="9.00" opacity="0.149"/>
<circle cx="338.4" cy="150.0" r="9.00" opacity="0.121"/>
<circle cx="345.4" cy="154.4" r="9.00" opacity="0.074"/>
<circle cx="345.4" cy="162.6" r="9.00" opacity="0.060"/>
<circle cx="352.8" cy="141.8" r="9.00" opacity="0.226"/>
<circle cx="352.8" cy="150.0" r="9.00" opacity="0.183"/>
<circle cx="360.1" cy="154.4" r="9.00" opacity="0.074"/>
<circle cx="360.1" cy="162.6" r="9.00" opacity="0.060"/>
<circle cx="367.1" cy="141.8" r="9.00" opacity="0.149"/>
<circle cx="367.1" cy="150.0" r="9.00" opacity="0.121"/>
<circle cx="374.8" cy="154.4" r="9.00" opacity="0.198"/>
<circle cx="374.8" cy="162.6" r="9.00" opacity="0.162"/>
<circle cx="330.8" cy="179.5" r="9.00" opacity="0.234"/>
<circle cx="330.8" cy="187.7" r="9.00" opacity="0.193"/>
<circle cx="338.4" cy="166.9" r="9.00" opacity="0.172"/>
<circle cx="338.4" cy="175.1" r="9.00" opacity="0.140"/>
<circle cx="345.4" cy="179.5" r="9.00" opacity="0.087"/>
<circle cx="345.4" cy="187.7" r="9.00" opacity="0.071"/>
<circle cx="352.8" cy="166.9" r="9.00" opacity="0.263"/>
<circle cx="352.8" cy="175.1" r="9.00" opacity="0.214"/>
<circle cx="360.1" cy="179.5" r="9.00" opacity="0.087"/>
<circle cx="360.1" cy="187.7" r="9.00" opacity="0.071"/>
<circle cx="367.1" cy="166.9" r="9.00" opacity="0.172"/>
<circle cx="367.1" cy="175.1" r="9.00" opacity="0.140"/>
<circle cx="374.8" cy="179.5" r="9.00" opacity="0.234"/>
<circle cx="374.8" cy="187.7" r="9.00" opacity="0.193"/>
<circle cx="330.8" cy="204.6" r="9.00" opacity="0.274"/>
<circle cx="330.8" cy="212.8" r="9.00" opacity="0.226"/>
<circle cx="338.4" cy="192.0" r="9.00" opacity="0.196"/>
<circle cx="338.4" cy="200.2" r="9.00" opacity="0.160"/>
<circle cx="345.4" cy="204.6" r="9.00" opacity="0.100"/>
<circle cx="345.4" cy="212.8" r="9.00" opacity="0.082"/>
<circle cx="352.8" cy="192.0" r="9.00" opacity="0.307"/>
<circle cx="352.8" cy="200.2" r="9.00" opacity="0.253"/>
<circle cx="360.1" cy="204.6" r="9.00" opacity="0.100"/>
<circle cx="360.1" cy="212.8" r="9.00" opacity="0.082"/>
<circle cx="367.1" cy="192.0" r="9.00" opacity="0.196"/>
<circle cx="367.1" cy="200.2" r="9.00" opacity="0.160"/>
<circle cx="374.8" cy="204.6" r="9.00" opacity="0.274"/>
<circle cx="374.8" cy="212.8" r="9.00" opacity="0.226"/>
<circle cx="330.8" cy="229.7" r="9.00" opacity="0.315"/>
<circle cx="330.8" cy="237.8" r="9.00" opacity="0.261"/>
<circle cx="338.4" cy="217.1" r="9.00" opacity="0.221"/>
<circle cx="338.4" cy="225.3" r="9.00" opacity="0.181"/>
<circle cx="345.4" cy="229.7" r="9.00" opacity="0.114"/>
<circle cx="345.4" cy="237.8" r="9.00" opacity="0.094"/>
<circle cx="352.8" cy="217.1" r="9.00" opacity="0.364"/>
<circle cx="352.8" cy="225.3" r="9.00" opacity="0.303"/>
<circle cx="360.1" cy="229.7" r="9.00" opacity="0.114"/>
<circle cx="360.1" cy="237.8" r="9.00" opacity="0.094"/>
<circle cx="367.1" cy="217.1" r="9.00" opacity="0.221"/>
<circle cx="367.1" cy="225.3" r="9.00" opacity="0.181"/>
<circle cx="374.8" cy="229.7" r="9.00" opacity="0.315"/>
<circle cx="374.8" cy="237.8" r="9.00" opacity="0.261"/>
<circle cx="330.8" cy="254.8" r="9.00" opacity="0.355"/>
<circle cx="330.8" cy="262.9" r="9.00" opacity="0.298"/>
<circle cx="338.4" cy="242.2" r="9.00" opacity="0.245"/>
<circle cx="338.4" cy="250.4" r="9.00" opacity="0.202"/>
<circle cx="345.4" cy="254.8" r="9.00" opacity="0.127"/>
<circle cx="345.4" cy="262.9" r="9.00" opacity="0.106"/>
<circle cx="352.8" cy="242.2" r="9.00" opacity="0.431"/>
<circle cx="352.8" cy="250.4" r="9.00" opacity="0.363"/>
<circle cx="360.1" cy="254.8" r="9.00" opacity="0.127"/>
<circle cx="360.1" cy="262.9" r="9.00" opacity="0.106"/>
<circle cx="367.1" cy="242.2" r="9.00" opacity="0.245"/>
<circle cx="367.1" cy="250.4" r="9.00" opacity="0.202"/>
<circle cx="374.8" cy="254.8" r="9.00" opacity="0.355"/>
<circle cx="374.8" cy="262.9" r="9.00" opacity="0.298"/>
<circle cx="330.8" cy="279.9" r="9.00" opacity="0.390"/>
<circle cx="330.8" cy="288.1" r="9.00" opacity="0.334"/>
<circle cx="338.4" cy="267.3" r="9.00" opacity="0.266"/>
<circle cx="338.4" cy="275.5" r="9.00" opacity="0.223"/>
<circle cx="345.4" cy="279.9" r="9.00" opacity="0.138"/>
<circle cx="345.4" cy="288.1" r="9.00" opacity="0.118"/>
<circle cx="352.8" cy="267.3" r="9.00" opacity="0.494"/>
<circle cx="352.8" cy="275.5" r="9.00" opacity="0.421"/>
<circle cx="360.1" cy="279.9" r="9.00" opacity="0.138"/>
<circle cx="360.1" cy="288.1" r="9.00" opacity="0.118"/>
<circle cx="367.1" cy="267.3" r="9.00" opacity="0.266"/>
<circle cx="367.1" cy="275.5" r="9.00" opacity="0.223"/>
<circle cx="374.8" cy="279.9" r="9.00" opacity="0.390"/>
<circle cx="374.8" cy="288.1" r="9.00" opacity="0.334"/>
<circle cx="330.8" cy="304.9" r="9.00" opacity="0.417"/>
<circle cx="330.8" cy="313.1" r="9.00" opacity="0.368"/>
<circle cx="338.4" cy="292.4" r="9.00" opacity="0.282"/>
<circle cx="338.4" cy="300.6" r="9.00" opacity="0.243"/>
<circle cx="345.4" cy="304.9" r="9.00" opacity="0.147"/>
<circle cx="345.4" cy="313.1" r="9.00" opacity="0.129"/>
<circle cx="352.8" cy="292.4" r="9.00" opacity="0.548"/>
<circle cx="352.8" cy="300.6" r="9.00" opacity="0.479"/>
<circle cx="360.1" cy="304.9" r="9.00" opacity="0.147"/>
<circle cx="360.1" cy="313.1" r="9.00" opacity="0.129"/>
<circle cx="367.1" cy="292.4" r="9.00" opacity="0.282"/>
<circle cx="367.1" cy="300.6" r="9.00" opacity="0.243"/>
<circle cx="374.8" cy="304.9" r="9.00" opacity="0.417"/>
<circle cx="374.8" cy="313.1" r="9.00" opacity="0.368"/>
<circle cx="330.8" cy="330.1" r="9.00" opacity="0.433"/>
<circle cx="330.8" cy="338.2" r="9.00" opacity="0.398"/>
<circle cx="338.4" cy="317.5" r="9.00" opacity="0.292"/>
<circle cx="338.4" cy="325.7" r="9.00" opacity="0.261"/>
<circle cx="345.4" cy="330.1" r="9.00" opacity="0.152"/>
<circle cx="345.4" cy="338.2" r="9.00" opacity="0.139"/>
<circle cx="352.8" cy="317.5" r="9.00" opacity="0.588"/>
<circle cx="352.8" cy="325.7" r="9.00" opacity="0.531"/>
<circle cx="360.1" cy="330.1" r="9.00" opacity="0.152"/>
<circle cx="360.1" cy="338.2" r="9.00" opacity="0.139"/>
<circle cx="367.1" cy="317.5" r="9.00" opacity="0.292"/>
<circle cx="367.1" cy="325.7" r="9.00" opacity="0.261"/>
<circle cx="374.8" cy="330.1" r="9.00" opacity="0.433"/>
<circle cx="374.8" cy="338.2" r="9.00" opacity="0.398"/>
<circle cx="330.8" cy="355.2" r="9.00" opacity="0.435"/>
<circle cx="330.8" cy="363.4" r="9.00" opacity="0.421"/>
<circle cx="338.4" cy="342.6" r="9.00" opacity="0.295"/>
<circle cx="338.4" cy="350.8" r="9.00" opacity="0.277"/>
<circle cx="345.4" cy="355.2" r="9.00" opacity="0.152"/>
<circle cx="345.4" cy="363.4" r="9.00" opacity="0.147"/>
<circle cx="352.8" cy="342.6" r="9.00" opacity="0.608"/>
<circle cx="352.8" cy="350.8" r="9.00" opacity="0.575"/>
<circle cx="360.1" cy="355.2" r="9.00" opacity="0.152"/>
<circle cx="360.1" cy="363.4" r="9.00" opacity="0.147"/>
<circle cx="367.1" cy="342.6" r="9.00" opacity="0.295"/>
<circle cx="367.1" cy="350.8" r="9.00" opacity="0.277"/>
<circle cx="374.8" cy="355.2" r="9.00" opacity="0.435"/>
<circle cx="374.8" cy="363.4" r="9.00" opacity="0.421"/>
<circle cx="330.8" cy="380.2" r="9.00" opacity="0.424"/>
<circle cx="330.8" cy="388.4" r="9.00" opacity="0.434"/>
<circle cx="338.4" cy="367.7" r="9.00" opacity="0.291"/>
<circle cx="338.4" cy="375.9" r="9.00" opacity="0.289"/>
<circle cx="345.4" cy="380.2" r="9.00" opacity="0.148"/>
<circle cx="345.4" cy="388.4" r="9.00" opacity="0.151"/>
<circle cx="352.8" cy="367.7" r="9.00" opacity="0.601"/>
<circle cx="352.8" cy="375.9" r="9.00" opacity="0.598"/>
<circle cx="360.1" cy="380.2" r="9.00" opacity="0.148"/>
<circle cx="360.1" cy="388.4" r="9.00" opacity="0.151"/>
<circle cx="367.1" cy="367.7" r="9.00" opacity="0.291"/>
<circle cx="367.1" cy="375.9" r="9.00" opacity="0.289"/>
<circle cx="374.8" cy="380.2" r="9.00" opacity="0.424"/>
<circle cx="374.8" cy="388.4" r="9.00" opacity="0.434"/>
<circle cx="330.8" cy="405.4" r="9.00" opacity="0.403"/>
<circle cx="330.8" cy="413.6" r="9.00" opacity="0.434"/>
<circle cx="338.4" cy="392.8" r="9.00" opacity="0.280"/>
<circle cx="338.4" cy="401.0" r="9.00" opacity="0.295"/>
<circle cx="345.4" cy="405.4" r="9.00" opacity="0.141"/>
<circle cx="345.4" cy="413.6" r="9.00" opacity="0.152"/>
<circle cx="352.8" cy="392.8" r="9.00" opacity="0.579"/>
<circle cx="352.8" cy="401.0" r="9.00" opacity="0.610"/>
<circle cx="360.1" cy="405.4" r="9.00" opacity="0.141"/>
<circle cx="360.1" cy="413.6" r="9.00" opacity="0.152"/>
<circle cx="367.1" cy="392.8" r="9.00" opacity="0.280"/>
<circle cx="367.1" cy="401.0" r="9.00" opacity="0.295"/>
<circle cx="374.8" cy="405.4" r="9.00" opacity="0.403"/>
<circle cx="374.8" cy="413.6" r="9.00" opacity="0.434"/>
<circle cx="330.8" cy="430.4" r="9.00" opacity="0.374"/>
<circle cx="330.8" cy="438.6" r="9.00" opacity="0.421"/>
<circle cx="338.4" cy="417.9" r="9.00" opacity="0.265"/>
<circle cx="338.4" cy="426.1" r="9.00" opacity="0.293"/>
<circle cx="345.4" cy="430.4" r="9.00" opacity="0.131"/>
<circle cx="345.4" cy="438.6" r="9.00" opacity="0.148"/>
<circle cx="352.8" cy="417.9" r="9.00" opacity="0.540"/>
<circle cx="352.8" cy="426.1" r="9.00" opacity="0.594"/>
<circle cx="360.1" cy="430.4" r="9.00" opacity="0.131"/>
<circle cx="360.1" cy="438.6" r="9.00" opacity="0.148"/>
<circle cx="367.1" cy="417.9" r="9.00" opacity="0.265"/>
<circle cx="367.1" cy="426.1" r="9.00" opacity="0.293"/>
<circle cx="374.8" cy="430.4" r="9.00" opacity="0.374"/>
<circle cx="374.8" cy="438.6" r="9.00" opacity="0.421"/>
<circle cx="330.8" cy="455.6" r="9.00" opacity="0.341"/>
<circle cx="330.8" cy="463.8" r="9.00" opacity="0.397"/>
<circle cx="338.4" cy="443.0" r="9.00" opacity="0.247"/>
<circle cx="338.4" cy="451.2" r="9.00" opacity="0.285"/>
<circle cx="345.4" cy="455.6" r="9.00" opacity="0.120"/>
<circle cx="345.4" cy="463.8" r="9.00" opacity="0.140"/>
<circle cx="352.8" cy="443.0" r="9.00" opacity="0.489"/>
<circle cx="352.8" cy="451.2" r="9.00" opacity="0.558"/>
<circle cx="360.1" cy="455.6" r="9.00" opacity="0.120"/>
<circle cx="360.1" cy="463.8" r="9.00" opacity="0.140"/>
<circle cx="367.1" cy="443.0" r="9.00" opacity="0.247"/>
<circle cx="367.1" cy="451.2" r="9.00" opacity="0.285"/>
<circle cx="374.8" cy="455.6" r="9.00" opacity="0.341"/>
<circle cx="374.8" cy="463.8" r="9.00" opacity="0.397"/>
<circle cx="330.8" cy="480.7" r="9.00" opacity="0.305"/>
<circle cx="330.8" cy="488.9" r="9.00" opacity="0.363"/>
<circle cx="338.4" cy="468.1" r="9.00" opacity="0.227"/>
<circle cx="338.4" cy="476.3" r="9.00" opacity="0.269"/>
<circle cx="345.4" cy="480.7" r="9.00" opacity="0.109"/>
<circle cx="345.4" cy="488.9" r="9.00" opacity="0.129"/>
<circle cx="352.8" cy="468.1" r="9.00" opacity="0.433"/>
<circle cx="352.8" cy="476.3" r="9.00" opacity="0.506"/>
<circle cx="360.1" cy="480.7" r="9.00" opacity="0.109"/>
<circle cx="360.1" cy="488.9" r="9.00" opacity="0.129"/>
<circle cx="367.1" cy="468.1" r="9.00" opacity="0.227"/>
<circle cx="367.1" cy="476.3" r="9.00" opacity="0.269"/>
<circle cx="374.8" cy="480.7" r="9.00" opacity="0.305"/>
<circle cx="374.8" cy="488.9" r="9.00" opacity="0.363"/>
<circle cx="330.8" cy="505.8" r="9.00" opacity="0.269"/>
<circle cx="330.8" cy="514.0" r="9.00" opacity="0.324"/>
<circle cx="338.4" cy="493.2" r="9.00" opacity="0.206"/>
<circle cx="338.4" cy="501.4" r="9.00" opacity="0.249"/>
<circle cx="345.4" cy="505.8" r="9.00" opacity="0.096"/>
<circle cx="345.4" cy="514.0" r="9.00" opacity="0.117"/>
<circle cx="352.8" cy="493.2" r="9.00" opacity="0.375"/>
<circle cx="352.8" cy="501.4" r="9.00" opacity="0.445"/>
<circle cx="360.1" cy="505.8" r="9.00" opacity="0.096"/>
<circle cx="360.1" cy="514.0" r="9.00" opacity="0.117"/>
<circle cx="367.1" cy="493.2" r="9.00" opacity="0.206"/>
<circle cx="367.1" cy="501.4" r="9.00" opacity="0.249"/>
<circle cx="374.8" cy="505.8" r="9.00" opacity="0.269"/>
<circle cx="374.8" cy="514.0" r="9.00" opacity="0.324"/>
<circle cx="330.8" cy="530.9" r="9.00" opacity="0.233"/>
<circle cx="330.8" cy="539.1" r="9.00" opacity="0.282"/>
<circle cx="338.4" cy="518.3" r="9.00" opacity="0.185"/>
<circle cx="338.4" cy="526.5" r="9.00" opacity="0.226"/>
<circle cx="345.4" cy="530.9" r="9.00" opacity="0.085"/>
<circle cx="345.4" cy="539.1" r="9.00" opacity="0.103"/>
<circle cx="352.8" cy="518.3" r="9.00" opacity="0.315"/>
<circle cx="352.8" cy="526.5" r="9.00" opacity="0.376"/>
<circle cx="360.1" cy="530.9" r="9.00" opacity="0.085"/>
<circle cx="360.1" cy="539.1" r="9.00" opacity="0.103"/>
<circle cx="367.1" cy="518.3" r="9.00" opacity="0.185"/>
<circle cx="367.1" cy="526.5" r="9.00" opacity="0.226"/>
<circle cx="374.8" cy="530.9" r="9.00" opacity="0.233"/>
<circle cx="374.8" cy="539.1" r="9.00" opacity="0.282"/>
<circle cx="330.8" cy="556.0" r="9.00" opacity="0.199"/>
<circle cx="330.8" cy="564.2" r="9.00" opacity="0.242"/>
<circle cx="338.4" cy="543.4" r="9.00" opacity="0.164"/>
<circle cx="338.4" cy="551.6" r="9.00" opacity="0.201"/>
<circle cx="345.4" cy="556.0" r="9.00" opacity="0.073"/>
<circle cx="345.4" cy="564.2" r="9.00" opacity="0.089"/>
<circle cx="352.8" cy="543.4" r="9.00" opacity="0.263"/>
<circle cx="352.8" cy="551.6" r="9.00" opacity="0.317"/>
<circle cx="360.1" cy="556.0" r="9.00" opacity="0.073"/>
<circle cx="360.1" cy="564.2" r="9.00" opacity="0.089"/>
<circle cx="367.1" cy="543.4" r="9.00" opacity="0.164"/>
<circle cx="367.1" cy="551.6" r="9.00" opacity="0.201"/>
<circle cx="374.8" cy="556.0" r="9.00" opacity="0.199"/>
<circle cx="374.8" cy="564.2" r="9.00" opacity="0.242"/>
<circle cx="330.8" cy="581.1" r="9.00" opacity="0.168"/>
<circle cx="330.8" cy="589.2" r="9.00" opacity="0.205"/>
<circle cx="338.4" cy="568.5" r="9.00" opacity="0.144"/>
<circle cx="338.4" cy="576.7" r="9.00" opacity="0.177"/>
<circle cx="345.4" cy="581.1" r="9.00" opacity="0.062"/>
<circle cx="345.4" cy="589.2" r="9.00" opacity="0.076"/>
<circle cx="352.8" cy="568.5" r="9.00" opacity="0.222"/>
<circle cx="352.8" cy="576.7" r="9.00" opacity="0.270"/>
<circle cx="360.1" cy="581.1" r="9.00" opacity="0.062"/>
<circle cx="360.1" cy="589.2" r="9.00" opacity="0.076"/>
<circle cx="367.1" cy="568.5" r="9.00" opacity="0.144"/>
<circle cx="367.1" cy="576.7" r="9.00" opacity="0.177"/>
<circle cx="374.8" cy="581.1" r="9.00" opacity="0.168"/>
<circle cx="374.8" cy="589.2" r="9.00" opacity="0.205"/>
<circle cx="330.8" cy="606.2" r="9.00" opacity="0.140"/>
<circle cx="330.8" cy="614.4" r="9.00" opacity="0.171"/>
<circle cx="338.4" cy="593.6" r="9.00" opacity="0.125"/>
<circle cx="338.4" cy="601.8" r="9.00" opacity="0.154"/>
<circle cx="345.4" cy="606.2" r="9.00" opacity="0.053"/>
<circle cx="345.4" cy="614.4" r="9.00" opacity="0.064"/>
<circle cx="352.8" cy="593.6" r="9.00" opacity="0.189"/>
<circle cx="352.8" cy="601.8" r="9.00" opacity="0.232"/>
<circle cx="360.1" cy="606.2" r="9.00" opacity="0.053"/>
<circle cx="360.1" cy="614.4" r="9.00" opacity="0.064"/>
<circle cx="367.1" cy="593.6" r="9.00" opacity="0.125"/>
<circle cx="367.1" cy="601.8" r="9.00" opacity="0.154"/>
<circle cx="374.8" cy="606.2" r="9.00" opacity="0.140"/>
<circle cx="374.8" cy="614.4" r="9.00" opacity="0.171"/>
<circle cx="330.8" cy="631.2" r="9.00" opacity="0.116"/>
<circle cx="330.8" cy="639.5" r="9.00" opacity="0.141"/>
<circle cx="338.4" cy="618.7" r="9.00" opacity="0.107"/>
<circle cx="338.4" cy="626.9" r="9.00" opacity="0.132"/>
<circle cx="345.4" cy="631.2" r="9.00" opacity="0.044"/>
<circle cx="345.4" cy="639.5" r="9.00" opacity="0.054"/>
<circle cx="352.8" cy="618.7" r="9.00" opacity="0.163"/>
<circle cx="352.8" cy="626.9" r="9.00" opacity="0.201"/>
<circle cx="360.1" cy="631.2" r="9.00" opacity="0.044"/>
<circle cx="360.1" cy="639.5" r="9.00" opacity="0.054"/>
<circle cx="367.1" cy="618.7" r="9.00" opacity="0.107"/>
<circle cx="367.1" cy="626.9" r="9.00" opacity="0.132"/>
<circle cx="374.8" cy="631.2" r="9.00" opacity="0.116"/>
<circle cx="374.8" cy="639.5" r="9.00" opacity="0.141"/>
<circle cx="338.4" cy="643.8" r="9.00" opacity="0.091"/>
<circle cx="338.4" cy="652.0" r="9.00" opacity="0.112"/>
<circle cx="352.8" cy="643.8" r="9.00" opacity="0.138"/>
<circle cx="352.8" cy="652.0" r="9.00" opacity="0.168"/>
<circle cx="367.1" cy="643.8" r="9.00" opacity="0.091"/>
<circle cx="367.1" cy="652.0" r="9.00" opacity="0.112"/>
</g></g></g>
<line x1="318.80" y1="104.30" x2="318.80" y2="647.20" stroke="#000a78" stroke-opacity=".6" stroke-width="0.9"/>
<line x1="385.90" y1="104.30" x2="385.90" y2="647.20" stroke="#000a78" stroke-opacity=".6" stroke-width="0.9"/>
<clipPath id="cib"><rect x="419.10" y="104.30" width="67.80" height="542.90"/></clipPath>
<g filter="url(#jet)"><g clip-path="url(#cib)">
<rect x="417.1" y="102.3" width="71.8" height="546.9" fill="#000"/>
<g fill="url(#dot)">
<circle cx="432.2" cy="104.1" r="9.00" opacity="0.122"/>
<circle cx="432.2" cy="112.4" r="9.00" opacity="0.199"/>
<circle cx="439.9" cy="99.8" r="9.00" opacity="0.137"/>
<circle cx="446.9" cy="104.1" r="9.00" opacity="0.053"/>
<circle cx="446.9" cy="112.4" r="9.00" opacity="0.018"/>
<circle cx="454.2" cy="99.8" r="9.00" opacity="0.131"/>
<circle cx="461.6" cy="104.1" r="9.00" opacity="0.053"/>
<circle cx="461.6" cy="112.4" r="9.00" opacity="0.018"/>
<circle cx="468.6" cy="99.8" r="9.00" opacity="0.137"/>
<circle cx="476.2" cy="104.1" r="9.00" opacity="0.122"/>
<circle cx="476.2" cy="112.4" r="9.00" opacity="0.199"/>
<circle cx="432.2" cy="129.3" r="9.00" opacity="0.217"/>
<circle cx="432.2" cy="137.5" r="9.00" opacity="0.145"/>
<circle cx="439.9" cy="116.7" r="9.00" opacity="0.099"/>
<circle cx="439.9" cy="124.9" r="9.00" opacity="0.103"/>
<circle cx="446.9" cy="129.3" r="9.00" opacity="0.019"/>
<circle cx="446.9" cy="137.5" r="9.00" opacity="0.062"/>
<circle cx="454.2" cy="116.7" r="9.00" opacity="0.326"/>
<circle cx="454.2" cy="124.9" r="9.00" opacity="0.339"/>
<circle cx="461.6" cy="129.3" r="9.00" opacity="0.019"/>
<circle cx="461.6" cy="137.5" r="9.00" opacity="0.062"/>
<circle cx="468.6" cy="116.7" r="9.00" opacity="0.099"/>
<circle cx="468.6" cy="124.9" r="9.00" opacity="0.103"/>
<circle cx="476.2" cy="129.3" r="9.00" opacity="0.217"/>
<circle cx="476.2" cy="137.5" r="9.00" opacity="0.145"/>
<circle cx="432.2" cy="154.4" r="9.00" opacity="0.171"/>
<circle cx="432.2" cy="162.6" r="9.00" opacity="0.052"/>
<circle cx="439.9" cy="141.8" r="9.00" opacity="0.169"/>
<circle cx="439.9" cy="150.0" r="9.00" opacity="0.075"/>
<circle cx="446.9" cy="154.4" r="9.00" opacity="0.021"/>
<circle cx="446.9" cy="162.6" r="9.00" opacity="0.169"/>
<circle cx="454.2" cy="141.8" r="9.00" opacity="0.162"/>
<circle cx="454.2" cy="150.0" r="9.00" opacity="0.355"/>
<circle cx="461.6" cy="154.4" r="9.00" opacity="0.021"/>
<circle cx="461.6" cy="162.6" r="9.00" opacity="0.169"/>
<circle cx="468.6" cy="141.8" r="9.00" opacity="0.169"/>
<circle cx="468.6" cy="150.0" r="9.00" opacity="0.075"/>
<circle cx="476.2" cy="154.4" r="9.00" opacity="0.171"/>
<circle cx="476.2" cy="162.6" r="9.00" opacity="0.052"/>
<circle cx="432.2" cy="179.5" r="9.00" opacity="0.065"/>
<circle cx="432.2" cy="187.7" r="9.00" opacity="0.067"/>
<circle cx="439.9" cy="166.9" r="9.00" opacity="0.179"/>
<circle cx="439.9" cy="175.1" r="9.00" opacity="0.116"/>
<circle cx="446.9" cy="179.5" r="9.00" opacity="0.050"/>
<circle cx="446.9" cy="187.7" r="9.00" opacity="0.052"/>
<circle cx="454.2" cy="166.9" r="9.00" opacity="0.044"/>
<circle cx="454.2" cy="175.1" r="9.00" opacity="0.152"/>
<circle cx="461.6" cy="179.5" r="9.00" opacity="0.050"/>
<circle cx="461.6" cy="187.7" r="9.00" opacity="0.052"/>
<circle cx="468.6" cy="166.9" r="9.00" opacity="0.179"/>
<circle cx="468.6" cy="175.1" r="9.00" opacity="0.116"/>
<circle cx="476.2" cy="179.5" r="9.00" opacity="0.065"/>
<circle cx="476.2" cy="187.7" r="9.00" opacity="0.067"/>
<circle cx="432.2" cy="204.6" r="9.00" opacity="0.062"/>
<circle cx="432.2" cy="212.8" r="9.00" opacity="0.217"/>
<circle cx="439.9" cy="192.0" r="9.00" opacity="0.124"/>
<circle cx="439.9" cy="200.2" r="9.00" opacity="0.205"/>
<circle cx="446.9" cy="204.6" r="9.00" opacity="0.201"/>
<circle cx="446.9" cy="212.8" r="9.00" opacity="0.027"/>
<circle cx="454.2" cy="192.0" r="9.00" opacity="0.163"/>
<circle cx="454.2" cy="200.2" r="9.00" opacity="0.050"/>
<circle cx="461.6" cy="204.6" r="9.00" opacity="0.201"/>
<circle cx="461.6" cy="212.8" r="9.00" opacity="0.027"/>
<circle cx="468.6" cy="192.0" r="9.00" opacity="0.124"/>
<circle cx="468.6" cy="200.2" r="9.00" opacity="0.205"/>
<circle cx="476.2" cy="204.6" r="9.00" opacity="0.062"/>
<circle cx="476.2" cy="212.8" r="9.00" opacity="0.217"/>
<circle cx="432.2" cy="229.7" r="9.00" opacity="0.211"/>
<circle cx="432.2" cy="237.8" r="9.00" opacity="0.337"/>
<circle cx="439.9" cy="217.1" r="9.00" opacity="0.099"/>
<circle cx="439.9" cy="225.3" r="9.00" opacity="0.237"/>
<circle cx="446.9" cy="229.7" r="9.00" opacity="0.090"/>
<circle cx="446.9" cy="237.8" r="9.00" opacity="0.030"/>
<circle cx="454.2" cy="217.1" r="9.00" opacity="0.466"/>
<circle cx="454.2" cy="225.3" r="9.00" opacity="0.228"/>
<circle cx="461.6" cy="229.7" r="9.00" opacity="0.090"/>
<circle cx="461.6" cy="237.8" r="9.00" opacity="0.030"/>
<circle cx="468.6" cy="217.1" r="9.00" opacity="0.099"/>
<circle cx="468.6" cy="225.3" r="9.00" opacity="0.237"/>
<circle cx="476.2" cy="229.7" r="9.00" opacity="0.211"/>
<circle cx="476.2" cy="237.8" r="9.00" opacity="0.337"/>
<circle cx="432.2" cy="254.8" r="9.00" opacity="0.354"/>
<circle cx="432.2" cy="262.9" r="9.00" opacity="0.232"/>
<circle cx="439.9" cy="242.2" r="9.00" opacity="0.166"/>
<circle cx="439.9" cy="250.4" r="9.00" opacity="0.171"/>
<circle cx="446.9" cy="254.8" r="9.00" opacity="0.031"/>
<circle cx="446.9" cy="262.9" r="9.00" opacity="0.100"/>
<circle cx="454.2" cy="242.2" r="9.00" opacity="0.546"/>
<circle cx="454.2" cy="250.4" r="9.00" opacity="0.560"/>
<circle cx="461.6" cy="254.8" r="9.00" opacity="0.031"/>
<circle cx="461.6" cy="262.9" r="9.00" opacity="0.100"/>
<circle cx="468.6" cy="242.2" r="9.00" opacity="0.166"/>
<circle cx="468.6" cy="250.4" r="9.00" opacity="0.171"/>
<circle cx="476.2" cy="254.8" r="9.00" opacity="0.354"/>
<circle cx="476.2" cy="262.9" r="9.00" opacity="0.232"/>
<circle cx="432.2" cy="279.9" r="9.00" opacity="0.264"/>
<circle cx="432.2" cy="288.1" r="9.00" opacity="0.079"/>
<circle cx="439.9" cy="267.3" r="9.00" opacity="0.268"/>
<circle cx="439.9" cy="275.5" r="9.00" opacity="0.117"/>
<circle cx="446.9" cy="279.9" r="9.00" opacity="0.032"/>
<circle cx="446.9" cy="288.1" r="9.00" opacity="0.257"/>
<circle cx="454.2" cy="267.3" r="9.00" opacity="0.258"/>
<circle cx="454.2" cy="275.5" r="9.00" opacity="0.553"/>
<circle cx="461.6" cy="279.9" r="9.00" opacity="0.032"/>
<circle cx="461.6" cy="288.1" r="9.00" opacity="0.257"/>
<circle cx="468.6" cy="267.3" r="9.00" opacity="0.268"/>
<circle cx="468.6" cy="275.5" r="9.00" opacity="0.117"/>
<circle cx="476.2" cy="279.9" r="9.00" opacity="0.264"/>
<circle cx="476.2" cy="288.1" r="9.00" opacity="0.079"/>
<circle cx="432.2" cy="304.9" r="9.00" opacity="0.095"/>
<circle cx="432.2" cy="313.1" r="9.00" opacity="0.096"/>
<circle cx="439.9" cy="292.4" r="9.00" opacity="0.268"/>
<circle cx="439.9" cy="300.6" r="9.00" opacity="0.170"/>
<circle cx="446.9" cy="304.9" r="9.00" opacity="0.073"/>
<circle cx="446.9" cy="313.1" r="9.00" opacity="0.074"/>
<circle cx="454.2" cy="292.4" r="9.00" opacity="0.065"/>
<circle cx="454.2" cy="300.6" r="9.00" opacity="0.223"/>
<circle cx="461.6" cy="304.9" r="9.00" opacity="0.073"/>
<circle cx="461.6" cy="313.1" r="9.00" opacity="0.074"/>
<circle cx="468.6" cy="292.4" r="9.00" opacity="0.268"/>
<circle cx="468.6" cy="300.6" r="9.00" opacity="0.170"/>
<circle cx="476.2" cy="304.9" r="9.00" opacity="0.095"/>
<circle cx="476.2" cy="313.1" r="9.00" opacity="0.096"/>
<circle cx="432.2" cy="330.1" r="9.00" opacity="0.085"/>
<circle cx="432.2" cy="338.2" r="9.00" opacity="0.289"/>
<circle cx="439.9" cy="317.5" r="9.00" opacity="0.175"/>
<circle cx="439.9" cy="325.7" r="9.00" opacity="0.282"/>
<circle cx="446.9" cy="330.1" r="9.00" opacity="0.274"/>
<circle cx="446.9" cy="338.2" r="9.00" opacity="0.035"/>
<circle cx="454.2" cy="317.5" r="9.00" opacity="0.229"/>
<circle cx="454.2" cy="325.7" r="9.00" opacity="0.069"/>
<circle cx="461.6" cy="330.1" r="9.00" opacity="0.274"/>
<circle cx="461.6" cy="338.2" r="9.00" opacity="0.035"/>
<circle cx="468.6" cy="317.5" r="9.00" opacity="0.175"/>
<circle cx="468.6" cy="325.7" r="9.00" opacity="0.282"/>
<circle cx="476.2" cy="330.1" r="9.00" opacity="0.085"/>
<circle cx="476.2" cy="338.2" r="9.00" opacity="0.289"/>
<circle cx="432.2" cy="355.2" r="9.00" opacity="0.267"/>
<circle cx="432.2" cy="363.4" r="9.00" opacity="0.418"/>
<circle cx="439.9" cy="342.6" r="9.00" opacity="0.130"/>
<circle cx="439.9" cy="350.8" r="9.00" opacity="0.305"/>
<circle cx="446.9" cy="355.2" r="9.00" opacity="0.115"/>
<circle cx="446.9" cy="363.4" r="9.00" opacity="0.037"/>
<circle cx="454.2" cy="342.6" r="9.00" opacity="0.613"/>
<circle cx="454.2" cy="350.8" r="9.00" opacity="0.293"/>
<circle cx="461.6" cy="355.2" r="9.00" opacity="0.115"/>
<circle cx="461.6" cy="363.4" r="9.00" opacity="0.037"/>
<circle cx="468.6" cy="342.6" r="9.00" opacity="0.130"/>
<circle cx="468.6" cy="350.8" r="9.00" opacity="0.305"/>
<circle cx="476.2" cy="355.2" r="9.00" opacity="0.267"/>
<circle cx="476.2" cy="363.4" r="9.00" opacity="0.418"/>
<circle cx="432.2" cy="380.2" r="9.00" opacity="0.418"/>
<circle cx="432.2" cy="388.4" r="9.00" opacity="0.267"/>
<circle cx="439.9" cy="367.7" r="9.00" opacity="0.204"/>
<circle cx="439.9" cy="375.9" r="9.00" opacity="0.204"/>
<circle cx="446.9" cy="380.2" r="9.00" opacity="0.037"/>
<circle cx="446.9" cy="388.4" r="9.00" opacity="0.115"/>
<circle cx="454.2" cy="367.7" r="9.00" opacity="0.669"/>
<circle cx="454.2" cy="375.9" r="9.00" opacity="0.669"/>
<circle cx="461.6" cy="380.2" r="9.00" opacity="0.037"/>
<circle cx="461.6" cy="388.4" r="9.00" opacity="0.115"/>
<circle cx="468.6" cy="367.7" r="9.00" opacity="0.204"/>
<circle cx="468.6" cy="375.9" r="9.00" opacity="0.204"/>
<circle cx="476.2" cy="380.2" r="9.00" opacity="0.418"/>
<circle cx="476.2" cy="388.4" r="9.00" opacity="0.267"/>
<circle cx="432.2" cy="405.4" r="9.00" opacity="0.289"/>
<circle cx="432.2" cy="413.6" r="9.00" opacity="0.085"/>
<circle cx="439.9" cy="392.8" r="9.00" opacity="0.305"/>
<circle cx="439.9" cy="401.0" r="9.00" opacity="0.130"/>
<circle cx="446.9" cy="405.4" r="9.00" opacity="0.035"/>
<circle cx="446.9" cy="413.6" r="9.00" opacity="0.274"/>
<circle cx="454.2" cy="392.8" r="9.00" opacity="0.293"/>
<circle cx="454.2" cy="401.0" r="9.00" opacity="0.613"/>
<circle cx="461.6" cy="405.4" r="9.00" opacity="0.035"/>
<circle cx="461.6" cy="413.6" r="9.00" opacity="0.274"/>
<circle cx="468.6" cy="392.8" r="9.00" opacity="0.305"/>
<circle cx="468.6" cy="401.0" r="9.00" opacity="0.130"/>
<circle cx="476.2" cy="405.4" r="9.00" opacity="0.289"/>
<circle cx="476.2" cy="413.6" r="9.00" opacity="0.085"/>
<circle cx="432.2" cy="430.4" r="9.00" opacity="0.096"/>
<circle cx="432.2" cy="438.6" r="9.00" opacity="0.095"/>
<circle cx="439.9" cy="417.9" r="9.00" opacity="0.282"/>
<circle cx="439.9" cy="426.1" r="9.00" opacity="0.175"/>
<circle cx="446.9" cy="430.4" r="9.00" opacity="0.074"/>
<circle cx="446.9" cy="438.6" r="9.00" opacity="0.073"/>
<circle cx="454.2" cy="417.9" r="9.00" opacity="0.069"/>
<circle cx="454.2" cy="426.1" r="9.00" opacity="0.229"/>
<circle cx="461.6" cy="430.4" r="9.00" opacity="0.074"/>
<circle cx="461.6" cy="438.6" r="9.00" opacity="0.073"/>
<circle cx="468.6" cy="417.9" r="9.00" opacity="0.282"/>
<circle cx="468.6" cy="426.1" r="9.00" opacity="0.175"/>
<circle cx="476.2" cy="430.4" r="9.00" opacity="0.096"/>
<circle cx="476.2" cy="438.6" r="9.00" opacity="0.095"/>
<circle cx="432.2" cy="455.6" r="9.00" opacity="0.079"/>
<circle cx="432.2" cy="463.8" r="9.00" opacity="0.264"/>
<circle cx="439.9" cy="443.0" r="9.00" opacity="0.170"/>
<circle cx="439.9" cy="451.2" r="9.00" opacity="0.268"/>
<circle cx="446.9" cy="455.6" r="9.00" opacity="0.257"/>
<circle cx="446.9" cy="463.8" r="9.00" opacity="0.032"/>
<circle cx="454.2" cy="443.0" r="9.00" opacity="0.223"/>
<circle cx="454.2" cy="451.2" r="9.00" opacity="0.065"/>
<circle cx="461.6" cy="455.6" r="9.00" opacity="0.257"/>
<circle cx="461.6" cy="463.8" r="9.00" opacity="0.032"/>
<circle cx="468.6" cy="443.0" r="9.00" opacity="0.170"/>
<circle cx="468.6" cy="451.2" r="9.00" opacity="0.268"/>
<circle cx="476.2" cy="455.6" r="9.00" opacity="0.079"/>
<circle cx="476.2" cy="463.8" r="9.00" opacity="0.264"/>
<circle cx="432.2" cy="480.7" r="9.00" opacity="0.232"/>
<circle cx="432.2" cy="488.9" r="9.00" opacity="0.354"/>
<circle cx="439.9" cy="468.1" r="9.00" opacity="0.117"/>
<circle cx="439.9" cy="476.3" r="9.00" opacity="0.268"/>
<circle cx="446.9" cy="480.7" r="9.00" opacity="0.100"/>
<circle cx="446.9" cy="488.9" r="9.00" opacity="0.031"/>
<circle cx="454.2" cy="468.1" r="9.00" opacity="0.553"/>
<circle cx="454.2" cy="476.3" r="9.00" opacity="0.258"/>
<circle cx="461.6" cy="480.7" r="9.00" opacity="0.100"/>
<circle cx="461.6" cy="488.9" r="9.00" opacity="0.031"/>
<circle cx="468.6" cy="468.1" r="9.00" opacity="0.117"/>
<circle cx="468.6" cy="476.3" r="9.00" opacity="0.268"/>
<circle cx="476.2" cy="480.7" r="9.00" opacity="0.232"/>
<circle cx="476.2" cy="488.9" r="9.00" opacity="0.354"/>
<circle cx="432.2" cy="505.8" r="9.00" opacity="0.337"/>
<circle cx="432.2" cy="514.0" r="9.00" opacity="0.211"/>
<circle cx="439.9" cy="493.2" r="9.00" opacity="0.171"/>
<circle cx="439.9" cy="501.4" r="9.00" opacity="0.166"/>
<circle cx="446.9" cy="505.8" r="9.00" opacity="0.030"/>
<circle cx="446.9" cy="514.0" r="9.00" opacity="0.090"/>
<circle cx="454.2" cy="493.2" r="9.00" opacity="0.560"/>
<circle cx="454.2" cy="501.4" r="9.00" opacity="0.546"/>
<circle cx="461.6" cy="505.8" r="9.00" opacity="0.030"/>
<circle cx="461.6" cy="514.0" r="9.00" opacity="0.090"/>
<circle cx="468.6" cy="493.2" r="9.00" opacity="0.171"/>
<circle cx="468.6" cy="501.4" r="9.00" opacity="0.166"/>
<circle cx="476.2" cy="505.8" r="9.00" opacity="0.337"/>
<circle cx="476.2" cy="514.0" r="9.00" opacity="0.211"/>
<circle cx="432.2" cy="530.9" r="9.00" opacity="0.217"/>
<circle cx="432.2" cy="539.1" r="9.00" opacity="0.062"/>
<circle cx="439.9" cy="518.3" r="9.00" opacity="0.237"/>
<circle cx="439.9" cy="526.5" r="9.00" opacity="0.099"/>
<circle cx="446.9" cy="530.9" r="9.00" opacity="0.027"/>
<circle cx="446.9" cy="539.1" r="9.00" opacity="0.201"/>
<circle cx="454.2" cy="518.3" r="9.00" opacity="0.228"/>
<circle cx="454.2" cy="526.5" r="9.00" opacity="0.466"/>
<circle cx="461.6" cy="530.9" r="9.00" opacity="0.027"/>
<circle cx="461.6" cy="539.1" r="9.00" opacity="0.201"/>
<circle cx="468.6" cy="518.3" r="9.00" opacity="0.237"/>
<circle cx="468.6" cy="526.5" r="9.00" opacity="0.099"/>
<circle cx="476.2" cy="530.9" r="9.00" opacity="0.217"/>
<circle cx="476.2" cy="539.1" r="9.00" opacity="0.062"/>
<circle cx="432.2" cy="556.0" r="9.00" opacity="0.067"/>
<circle cx="432.2" cy="564.2" r="9.00" opacity="0.065"/>
<circle cx="439.9" cy="543.4" r="9.00" opacity="0.205"/>
<circle cx="439.9" cy="551.6" r="9.00" opacity="0.124"/>
<circle cx="446.9" cy="556.0" r="9.00" opacity="0.052"/>
<circle cx="446.9" cy="564.2" r="9.00" opacity="0.050"/>
<circle cx="454.2" cy="543.4" r="9.00" opacity="0.050"/>
<circle cx="454.2" cy="551.6" r="9.00" opacity="0.163"/>
<circle cx="461.6" cy="556.0" r="9.00" opacity="0.052"/>
<circle cx="461.6" cy="564.2" r="9.00" opacity="0.050"/>
<circle cx="468.6" cy="543.4" r="9.00" opacity="0.205"/>
<circle cx="468.6" cy="551.6" r="9.00" opacity="0.124"/>
<circle cx="476.2" cy="556.0" r="9.00" opacity="0.067"/>
<circle cx="476.2" cy="564.2" r="9.00" opacity="0.065"/>
<circle cx="432.2" cy="581.1" r="9.00" opacity="0.052"/>
<circle cx="432.2" cy="589.2" r="9.00" opacity="0.171"/>
<circle cx="439.9" cy="568.5" r="9.00" opacity="0.116"/>
<circle cx="439.9" cy="576.7" r="9.00" opacity="0.179"/>
<circle cx="446.9" cy="581.1" r="9.00" opacity="0.169"/>
<circle cx="446.9" cy="589.2" r="9.00" opacity="0.021"/>
<circle cx="454.2" cy="568.5" r="9.00" opacity="0.152"/>
<circle cx="454.2" cy="576.7" r="9.00" opacity="0.044"/>
<circle cx="461.6" cy="581.1" r="9.00" opacity="0.169"/>
<circle cx="461.6" cy="589.2" r="9.00" opacity="0.021"/>
<circle cx="468.6" cy="568.5" r="9.00" opacity="0.116"/>
<circle cx="468.6" cy="576.7" r="9.00" opacity="0.179"/>
<circle cx="476.2" cy="581.1" r="9.00" opacity="0.052"/>
<circle cx="476.2" cy="589.2" r="9.00" opacity="0.171"/>
<circle cx="432.2" cy="606.2" r="9.00" opacity="0.145"/>
<circle cx="432.2" cy="614.4" r="9.00" opacity="0.217"/>
<circle cx="439.9" cy="593.6" r="9.00" opacity="0.075"/>
<circle cx="439.9" cy="601.8" r="9.00" opacity="0.169"/>
<circle cx="446.9" cy="606.2" r="9.00" opacity="0.062"/>
<circle cx="446.9" cy="614.4" r="9.00" opacity="0.019"/>
<circle cx="454.2" cy="593.6" r="9.00" opacity="0.355"/>
<circle cx="454.2" cy="601.8" r="9.00" opacity="0.162"/>
<circle cx="461.6" cy="606.2" r="9.00" opacity="0.062"/>
<circle cx="461.6" cy="614.4" r="9.00" opacity="0.019"/>
<circle cx="468.6" cy="593.6" r="9.00" opacity="0.075"/>
<circle cx="468.6" cy="601.8" r="9.00" opacity="0.169"/>
<circle cx="476.2" cy="606.2" r="9.00" opacity="0.145"/>
<circle cx="476.2" cy="614.4" r="9.00" opacity="0.217"/>
<circle cx="432.2" cy="631.2" r="9.00" opacity="0.199"/>
<circle cx="432.2" cy="639.5" r="9.00" opacity="0.122"/>
<circle cx="439.9" cy="618.7" r="9.00" opacity="0.103"/>
<circle cx="439.9" cy="626.9" r="9.00" opacity="0.099"/>
<circle cx="446.9" cy="631.2" r="9.00" opacity="0.018"/>
<circle cx="446.9" cy="639.5" r="9.00" opacity="0.053"/>
<circle cx="454.2" cy="618.7" r="9.00" opacity="0.339"/>
<circle cx="454.2" cy="626.9" r="9.00" opacity="0.326"/>
<circle cx="461.6" cy="631.2" r="9.00" opacity="0.018"/>
<circle cx="461.6" cy="639.5" r="9.00" opacity="0.053"/>
<circle cx="468.6" cy="618.7" r="9.00" opacity="0.103"/>
<circle cx="468.6" cy="626.9" r="9.00" opacity="0.099"/>
<circle cx="476.2" cy="631.2" r="9.00" opacity="0.199"/>
<circle cx="476.2" cy="639.5" r="9.00" opacity="0.122"/>
<circle cx="439.9" cy="643.8" r="9.00" opacity="0.137"/>
<circle cx="439.9" cy="652.0" r="9.00" opacity="0.056"/>
<circle cx="454.2" cy="643.8" r="9.00" opacity="0.131"/>
<circle cx="454.2" cy="652.0" r="9.00" opacity="0.265"/>
<circle cx="468.6" cy="643.8" r="9.00" opacity="0.137"/>
<circle cx="468.6" cy="652.0" r="9.00" opacity="0.056"/>
</g></g></g>
<line x1="419.50" y1="104.30" x2="419.50" y2="647.20" stroke="#000a78" stroke-opacity=".6" stroke-width="0.9"/>
<line x1="486.50" y1="104.30" x2="486.50" y2="647.20" stroke="#000a78" stroke-opacity=".6" stroke-width="0.9"/>
<g shape-rendering="crispEdges">
<rect x="565.0" y="613.86" width="33.9" height="10.34" fill="#0000ff"/>
<rect x="565.0" y="604.02" width="33.9" height="10.34" fill="#0014ff"/>
<rect x="565.0" y="594.19" width="33.9" height="10.34" fill="#0029ff"/>
<rect x="565.0" y="584.35" width="33.9" height="10.34" fill="#003dff"/>
<rect x="565.0" y="574.51" width="33.9" height="10.34" fill="#0052ff"/>
<rect x="565.0" y="564.67" width="33.9" height="10.34" fill="#0066ff"/>
<rect x="565.0" y="554.83" width="33.9" height="10.34" fill="#007aff"/>
<rect x="565.0" y="545.00" width="33.9" height="10.34" fill="#008fff"/>
<rect x="565.0" y="535.16" width="33.9" height="10.34" fill="#00a3ff"/>
<rect x="565.0" y="525.32" width="33.9" height="10.34" fill="#00b8ff"/>
<rect x="565.0" y="515.48" width="33.9" height="10.34" fill="#00ccff"/>
<rect x="565.0" y="505.64" width="33.9" height="10.34" fill="#00e0ff"/>
<rect x="565.0" y="495.81" width="33.9" height="10.34" fill="#00f5ff"/>
<rect x="565.0" y="485.97" width="33.9" height="10.34" fill="#00fff5"/>
<rect x="565.0" y="476.13" width="33.9" height="10.34" fill="#00ffe0"/>
<rect x="565.0" y="466.29" width="33.9" height="10.34" fill="#00ffcc"/>
<rect x="565.0" y="456.45" width="33.9" height="10.34" fill="#00ffb8"/>
<rect x="565.0" y="446.62" width="33.9" height="10.34" fill="#00ffa3"/>
<rect x="565.0" y="436.78" width="33.9" height="10.34" fill="#00ff8f"/>
<rect x="565.0" y="426.94" width="33.9" height="10.34" fill="#00ff7a"/>
<rect x="565.0" y="417.10" width="33.9" height="10.34" fill="#00ff66"/>
<rect x="565.0" y="407.26" width="33.9" height="10.34" fill="#00ff52"/>
<rect x="565.0" y="397.43" width="33.9" height="10.34" fill="#00ff3d"/>
<rect x="565.0" y="387.59" width="33.9" height="10.34" fill="#00ff29"/>
<rect x="565.0" y="377.75" width="33.9" height="10.34" fill="#00ff14"/>
<rect x="565.0" y="367.91" width="33.9" height="10.34" fill="#00ff00"/>
<rect x="565.0" y="358.07" width="33.9" height="10.34" fill="#14ff00"/>
<rect x="565.0" y="348.24" width="33.9" height="10.34" fill="#29ff00"/>
<rect x="565.0" y="338.40" width="33.9" height="10.34" fill="#3dff00"/>
<rect x="565.0" y="328.56" width="33.9" height="10.34" fill="#52ff00"/>
<rect x="565.0" y="318.72" width="33.9" height="10.34" fill="#66ff00"/>
<rect x="565.0" y="308.88" width="33.9" height="10.34" fill="#7aff00"/>
<rect x="565.0" y="299.05" width="33.9" height="10.34" fill="#8fff00"/>
<rect x="565.0" y="289.21" width="33.9" height="10.34" fill="#a3ff00"/>
<rect x="565.0" y="279.37" width="33.9" height="10.34" fill="#b8ff00"/>
<rect x="565.0" y="269.53" width="33.9" height="10.34" fill="#ccff00"/>
<rect x="565.0" y="259.69" width="33.9" height="10.34" fill="#e0ff00"/>
<rect x="565.0" y="249.86" width="33.9" height="10.34" fill="#f5ff00"/>
<rect x="565.0" y="240.02" width="33.9" height="10.34" fill="#fff500"/>
<rect x="565.0" y="230.18" width="33.9" height="10.34" fill="#ffe000"/>
<rect x="565.0" y="220.34" width="33.9" height="10.34" fill="#ffcc00"/>
<rect x="565.0" y="210.50" width="33.9" height="10.34" fill="#ffb800"/>
<rect x="565.0" y="200.67" width="33.9" height="10.34" fill="#ffa300"/>
<rect x="565.0" y="190.83" width="33.9" height="10.34" fill="#ff8f00"/>
<rect x="565.0" y="180.99" width="33.9" height="10.34" fill="#ff7a00"/>
<rect x="565.0" y="171.15" width="33.9" height="10.34" fill="#ff6600"/>
<rect x="565.0" y="161.31" width="33.9" height="10.34" fill="#ff5200"/>
<rect x="565.0" y="151.48" width="33.9" height="10.34" fill="#ff3d00"/>
<rect x="565.0" y="141.64" width="33.9" height="10.34" fill="#ff2900"/>
<rect x="565.0" y="131.80" width="33.9" height="10.34" fill="#ff1400"/>
</g>
<path d="M227.5 67.5H533.5V687.5H227.5Z" fill="none" stroke="#2b2b2b" stroke-width="1.1" stroke-dasharray="24.8 9.25"/>
<path d="M118.5 480.5V497.0M187.5 480.5V497.0M118.5 514.0V530.2M187.5 514.0V530.2M118.5 547.3V563.5M187.5 547.3V563.5M118.5 580.5V596.7M187.5 580.5V596.7M118.5 613.6V632.0M187.5 613.6V632.0M118 480.5H134.4M152 480.5H168.8M127 640H143.7M161.4 640H176.2" fill="none" stroke="#2b2b2b" stroke-width="1" stroke-opacity=".85"/>
<line x1="121.5" y1="741.2" x2="185.9" y2="741.2" stroke="#111" stroke-width="1.3"/>
<g font-family='"Liberation Sans", Arial, Helvetica, sans-serif' fill="#111" stroke="#111" stroke-width="0.25">
<text transform="translate(113.9 742.8) scale(1 1.04)" font-size="28.95" text-anchor="end">0</text>
<text transform="translate(113.9 622.5) scale(1 1.04)" font-size="28.95" text-anchor="end">50</text>
<text transform="translate(113.9 502.1) scale(1 1.04)" font-size="28.95" text-anchor="end">100</text>
<text transform="translate(113.9 381.8) scale(1 1.04)" font-size="28.95" text-anchor="end">150</text>
<text transform="translate(113.9 261.4) scale(1 1.04)" font-size="28.95" text-anchor="end">200</text>
<text transform="translate(113.9 141.1) scale(1 1.04)" font-size="28.95" text-anchor="end">250</text>
<text transform="translate(113.9 20.7) scale(1 1.04)" font-size="28.95" text-anchor="end">300</text>
<text x="298.4" y="153.6" font-size="21.5" text-anchor="end">100</text>
<text x="298.4" y="320.9" font-size="21.5" text-anchor="end">80</text>
<text x="298.4" y="487.7" font-size="21.5" text-anchor="end">60</text>
<text x="298.4" y="654.7" font-size="21.5" text-anchor="end">40</text>
<text transform="translate(615.2 630.8) scale(1 1.075)" font-size="22.4">0.0000</text>
<text transform="translate(615.2 581.6) scale(1 1.075)" font-size="22.4">0.0006</text>
<text transform="translate(615.2 532.4) scale(1 1.075)" font-size="22.4">0.0011</text>
<text transform="translate(615.2 483.2) scale(1 1.075)" font-size="22.4">0.0017</text>
<text transform="translate(615.2 434.0) scale(1 1.075)" font-size="22.4">0.0022</text>
<text transform="translate(615.2 384.8) scale(1 1.075)" font-size="22.4">0.0028</text>
<text transform="translate(615.2 335.6) scale(1 1.075)" font-size="22.4">0.0034</text>
<text transform="translate(615.2 286.4) scale(1 1.075)" font-size="22.4">0.0039</text>
<text transform="translate(615.2 237.2) scale(1 1.075)" font-size="22.4">0.0045</text>
<text transform="translate(615.2 188.0) scale(1 1.075)" font-size="22.4">0.0051</text>
<text x="121.3" y="766" font-size="24.7">(a)</text>
<text x="158.5" y="766" font-size="24.7">(b)</text>
<text transform="translate(31.9 489.7) rotate(-90) scale(0.9357 1)" font-size="33.9" font-weight="bold" fill="#000" stroke="#000" stroke-width="0.45">GNR Length (Å)</text>
</g>
</svg>
</body></html>
